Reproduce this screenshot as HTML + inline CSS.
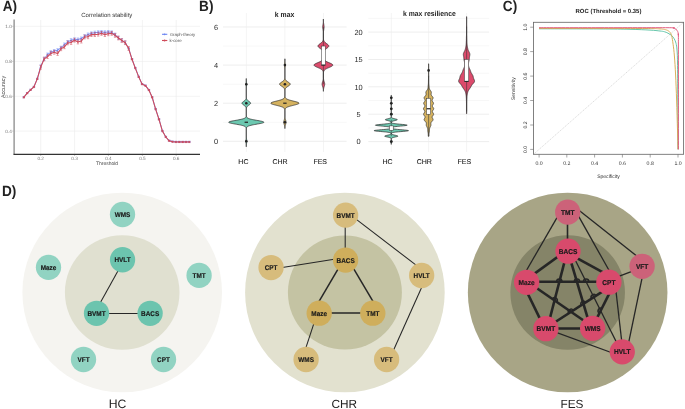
<!DOCTYPE html>
<html><head><meta charset="utf-8"><style>
html,body{margin:0;padding:0;background:#fff;overflow:hidden}
svg{display:block;will-change:transform}
text{font-family:"Liberation Sans", sans-serif;text-rendering:geometricPrecision}
</style></head><body>
<svg width="685" height="409" viewBox="0 0 685 409">
<rect width="685" height="409" fill="#fff"/>
<line x1="15" y1="26.3" x2="200" y2="26.3" stroke="#ebebeb" stroke-width="0.6"/>
<line x1="15" y1="61.4" x2="200" y2="61.4" stroke="#ebebeb" stroke-width="0.6"/>
<line x1="15" y1="96.3" x2="200" y2="96.3" stroke="#ebebeb" stroke-width="0.6"/>
<line x1="15" y1="131.1" x2="200" y2="131.1" stroke="#ebebeb" stroke-width="0.6"/>
<line x1="40.7" y1="20" x2="40.7" y2="154" stroke="#ebebeb" stroke-width="0.6"/>
<line x1="74.6" y1="20" x2="74.6" y2="154" stroke="#ebebeb" stroke-width="0.6"/>
<line x1="108.4" y1="20" x2="108.4" y2="154" stroke="#ebebeb" stroke-width="0.6"/>
<line x1="142.4" y1="20" x2="142.4" y2="154" stroke="#ebebeb" stroke-width="0.6"/>
<line x1="176.2" y1="20" x2="176.2" y2="154" stroke="#ebebeb" stroke-width="0.6"/>
<line x1="14.1" y1="19.5" x2="14.1" y2="154.6" stroke="#8a8a8a" stroke-width="1.3"/>
<line x1="13.5" y1="154.4" x2="200" y2="154.4" stroke="#333" stroke-width="1.15"/>
<text x="11.9" y="28.0" font-size="4.7" fill="#7a7a7a" text-anchor="end">1.0</text>
<line x1="12.3" y1="26.3" x2="13.4" y2="26.3" stroke="#888" stroke-width="0.5"/>
<text x="11.9" y="63.1" font-size="4.7" fill="#7a7a7a" text-anchor="end">0.8</text>
<line x1="12.3" y1="61.4" x2="13.4" y2="61.4" stroke="#888" stroke-width="0.5"/>
<text x="11.9" y="98.0" font-size="4.7" fill="#7a7a7a" text-anchor="end">0.6</text>
<line x1="12.3" y1="96.3" x2="13.4" y2="96.3" stroke="#888" stroke-width="0.5"/>
<text x="11.9" y="132.8" font-size="4.7" fill="#7a7a7a" text-anchor="end">0.4</text>
<line x1="12.3" y1="131.1" x2="13.4" y2="131.1" stroke="#888" stroke-width="0.5"/>
<text x="40.7" y="159.7" font-size="4.7" fill="#7a7a7a" text-anchor="middle">0.2</text>
<line x1="40.7" y1="154.9" x2="40.7" y2="156.0" stroke="#888" stroke-width="0.5"/>
<text x="74.6" y="159.7" font-size="4.7" fill="#7a7a7a" text-anchor="middle">0.3</text>
<line x1="74.6" y1="154.9" x2="74.6" y2="156.0" stroke="#888" stroke-width="0.5"/>
<text x="108.4" y="159.7" font-size="4.7" fill="#7a7a7a" text-anchor="middle">0.4</text>
<line x1="108.4" y1="154.9" x2="108.4" y2="156.0" stroke="#888" stroke-width="0.5"/>
<text x="142.4" y="159.7" font-size="4.7" fill="#7a7a7a" text-anchor="middle">0.5</text>
<line x1="142.4" y1="154.9" x2="142.4" y2="156.0" stroke="#888" stroke-width="0.5"/>
<text x="176.2" y="159.7" font-size="4.7" fill="#7a7a7a" text-anchor="middle">0.6</text>
<line x1="176.2" y1="154.9" x2="176.2" y2="156.0" stroke="#888" stroke-width="0.5"/>
<text x="107" y="164.5" font-size="5.0" fill="#444" text-anchor="middle">Threshold</text>
<text transform="translate(4.8,86.9) rotate(-90)" font-size="5.4" fill="#444" text-anchor="middle">Accuracy</text>
<text x="106.8" y="17.3" font-size="6.0" fill="#333" text-anchor="middle">Correlation stability</text>
<polyline fill="none" stroke="#6d87f2" stroke-width="0.9" points="23.8,97.2 27.2,93.0 30.6,89.7 33.9,86.8 37.3,78.7 40.7,66.4 44.1,58.9 47.5,54.6 50.8,52.2 54.2,51.1 57.6,50.2 61.0,47.7 64.4,44.5 67.7,42.0 71.1,40.2 74.5,39.4 77.9,39.5 81.3,38.5 84.6,36.2 88.0,34.5 91.4,33.4 94.8,32.7 98.2,32.3 101.5,32.1 104.9,32.3 108.3,32.1 111.7,32.4 115.1,34.6 118.4,37.8 121.8,40.3 125.2,42.5 128.6,48.2 132.0,59.1 135.3,67.9 138.7,76.7 142.1,84.0 145.5,85.5 148.9,89.9 152.2,97.2 155.6,108.9 159.0,119.2 162.4,130.9 165.8,136.8 169.1,140.6 172.5,141.5 175.9,141.8 179.3,141.8 182.7,141.8 186.0,141.8 189.4,141.8"/>
<path d="M22.5 96.7H25.1M22.5 97.7H25.1M23.8 96.7V97.7" stroke="#6d87f2" stroke-width="0.5" fill="none"/>
<circle cx="23.8" cy="97.2" r="0.8" fill="#6d87f2"/>
<path d="M25.9 92.5H28.5M25.9 93.5H28.5M27.2 92.5V93.5" stroke="#6d87f2" stroke-width="0.5" fill="none"/>
<circle cx="27.2" cy="93.0" r="0.8" fill="#6d87f2"/>
<path d="M29.3 89.2H31.9M29.3 90.2H31.9M30.6 89.2V90.2" stroke="#6d87f2" stroke-width="0.5" fill="none"/>
<circle cx="30.6" cy="89.7" r="0.8" fill="#6d87f2"/>
<path d="M32.6 86.3H35.2M32.6 87.3H35.2M33.9 86.3V87.3" stroke="#6d87f2" stroke-width="0.5" fill="none"/>
<circle cx="33.9" cy="86.8" r="0.8" fill="#6d87f2"/>
<path d="M36.0 78.2H38.6M36.0 79.2H38.6M37.3 78.2V79.2" stroke="#6d87f2" stroke-width="0.5" fill="none"/>
<circle cx="37.3" cy="78.7" r="0.8" fill="#6d87f2"/>
<path d="M39.4 64.9H42.0M39.4 67.9H42.0M40.7 64.9V67.9" stroke="#6d87f2" stroke-width="0.5" fill="none"/>
<circle cx="40.7" cy="66.4" r="0.8" fill="#6d87f2"/>
<path d="M42.8 57.4H45.4M42.8 60.4H45.4M44.1 57.4V60.4" stroke="#6d87f2" stroke-width="0.5" fill="none"/>
<circle cx="44.1" cy="58.9" r="0.8" fill="#6d87f2"/>
<path d="M46.2 53.1H48.8M46.2 56.1H48.8M47.5 53.1V56.1" stroke="#6d87f2" stroke-width="0.5" fill="none"/>
<circle cx="47.5" cy="54.6" r="0.8" fill="#6d87f2"/>
<path d="M49.5 50.7H52.1M49.5 53.7H52.1M50.8 50.7V53.7" stroke="#6d87f2" stroke-width="0.5" fill="none"/>
<circle cx="50.8" cy="52.2" r="0.8" fill="#6d87f2"/>
<path d="M52.9 49.6H55.5M52.9 52.6H55.5M54.2 49.6V52.6" stroke="#6d87f2" stroke-width="0.5" fill="none"/>
<circle cx="54.2" cy="51.1" r="0.8" fill="#6d87f2"/>
<path d="M56.3 48.7H58.9M56.3 51.7H58.9M57.6 48.7V51.7" stroke="#6d87f2" stroke-width="0.5" fill="none"/>
<circle cx="57.6" cy="50.2" r="0.8" fill="#6d87f2"/>
<path d="M59.7 46.2H62.3M59.7 49.2H62.3M61.0 46.2V49.2" stroke="#6d87f2" stroke-width="0.5" fill="none"/>
<circle cx="61.0" cy="47.7" r="0.8" fill="#6d87f2"/>
<path d="M63.1 43.0H65.7M63.1 46.0H65.7M64.4 43.0V46.0" stroke="#6d87f2" stroke-width="0.5" fill="none"/>
<circle cx="64.4" cy="44.5" r="0.8" fill="#6d87f2"/>
<path d="M66.4 40.5H69.0M66.4 43.5H69.0M67.7 40.5V43.5" stroke="#6d87f2" stroke-width="0.5" fill="none"/>
<circle cx="67.7" cy="42.0" r="0.8" fill="#6d87f2"/>
<path d="M69.8 38.7H72.4M69.8 41.7H72.4M71.1 38.7V41.7" stroke="#6d87f2" stroke-width="0.5" fill="none"/>
<circle cx="71.1" cy="40.2" r="0.8" fill="#6d87f2"/>
<path d="M73.2 37.9H75.8M73.2 40.9H75.8M74.5 37.9V40.9" stroke="#6d87f2" stroke-width="0.5" fill="none"/>
<circle cx="74.5" cy="39.4" r="0.8" fill="#6d87f2"/>
<path d="M76.6 38.0H79.2M76.6 41.0H79.2M77.9 38.0V41.0" stroke="#6d87f2" stroke-width="0.5" fill="none"/>
<circle cx="77.9" cy="39.5" r="0.8" fill="#6d87f2"/>
<path d="M80.0 37.0H82.6M80.0 40.0H82.6M81.3 37.0V40.0" stroke="#6d87f2" stroke-width="0.5" fill="none"/>
<circle cx="81.3" cy="38.5" r="0.8" fill="#6d87f2"/>
<path d="M83.3 34.7H85.9M83.3 37.7H85.9M84.6 34.7V37.7" stroke="#6d87f2" stroke-width="0.5" fill="none"/>
<circle cx="84.6" cy="36.2" r="0.8" fill="#6d87f2"/>
<path d="M86.7 33.0H89.3M86.7 36.0H89.3M88.0 33.0V36.0" stroke="#6d87f2" stroke-width="0.5" fill="none"/>
<circle cx="88.0" cy="34.5" r="0.8" fill="#6d87f2"/>
<path d="M90.1 31.9H92.7M90.1 34.9H92.7M91.4 31.9V34.9" stroke="#6d87f2" stroke-width="0.5" fill="none"/>
<circle cx="91.4" cy="33.4" r="0.8" fill="#6d87f2"/>
<path d="M93.5 31.2H96.1M93.5 34.2H96.1M94.8 31.2V34.2" stroke="#6d87f2" stroke-width="0.5" fill="none"/>
<circle cx="94.8" cy="32.7" r="0.8" fill="#6d87f2"/>
<path d="M96.9 30.8H99.5M96.9 33.8H99.5M98.2 30.8V33.8" stroke="#6d87f2" stroke-width="0.5" fill="none"/>
<circle cx="98.2" cy="32.3" r="0.8" fill="#6d87f2"/>
<path d="M100.2 30.6H102.8M100.2 33.6H102.8M101.5 30.6V33.6" stroke="#6d87f2" stroke-width="0.5" fill="none"/>
<circle cx="101.5" cy="32.1" r="0.8" fill="#6d87f2"/>
<path d="M103.6 30.8H106.2M103.6 33.8H106.2M104.9 30.8V33.8" stroke="#6d87f2" stroke-width="0.5" fill="none"/>
<circle cx="104.9" cy="32.3" r="0.8" fill="#6d87f2"/>
<path d="M107.0 30.6H109.6M107.0 33.6H109.6M108.3 30.6V33.6" stroke="#6d87f2" stroke-width="0.5" fill="none"/>
<circle cx="108.3" cy="32.1" r="0.8" fill="#6d87f2"/>
<path d="M110.4 30.9H113.0M110.4 33.9H113.0M111.7 30.9V33.9" stroke="#6d87f2" stroke-width="0.5" fill="none"/>
<circle cx="111.7" cy="32.4" r="0.8" fill="#6d87f2"/>
<path d="M113.8 33.1H116.4M113.8 36.1H116.4M115.1 33.1V36.1" stroke="#6d87f2" stroke-width="0.5" fill="none"/>
<circle cx="115.1" cy="34.6" r="0.8" fill="#6d87f2"/>
<path d="M117.1 36.3H119.7M117.1 39.3H119.7M118.4 36.3V39.3" stroke="#6d87f2" stroke-width="0.5" fill="none"/>
<circle cx="118.4" cy="37.8" r="0.8" fill="#6d87f2"/>
<path d="M120.5 38.8H123.1M120.5 41.8H123.1M121.8 38.8V41.8" stroke="#6d87f2" stroke-width="0.5" fill="none"/>
<circle cx="121.8" cy="40.3" r="0.8" fill="#6d87f2"/>
<path d="M123.9 41.0H126.5M123.9 44.0H126.5M125.2 41.0V44.0" stroke="#6d87f2" stroke-width="0.5" fill="none"/>
<circle cx="125.2" cy="42.5" r="0.8" fill="#6d87f2"/>
<path d="M127.3 47.7H129.9M127.3 48.7H129.9M128.6 47.7V48.7" stroke="#6d87f2" stroke-width="0.5" fill="none"/>
<circle cx="128.6" cy="48.2" r="0.8" fill="#6d87f2"/>
<path d="M130.7 58.6H133.3M130.7 59.6H133.3M132.0 58.6V59.6" stroke="#6d87f2" stroke-width="0.5" fill="none"/>
<circle cx="132.0" cy="59.1" r="0.8" fill="#6d87f2"/>
<path d="M134.0 67.4H136.6M134.0 68.4H136.6M135.3 67.4V68.4" stroke="#6d87f2" stroke-width="0.5" fill="none"/>
<circle cx="135.3" cy="67.9" r="0.8" fill="#6d87f2"/>
<path d="M137.4 76.2H140.0M137.4 77.2H140.0M138.7 76.2V77.2" stroke="#6d87f2" stroke-width="0.5" fill="none"/>
<circle cx="138.7" cy="76.7" r="0.8" fill="#6d87f2"/>
<path d="M140.8 83.5H143.4M140.8 84.5H143.4M142.1 83.5V84.5" stroke="#6d87f2" stroke-width="0.5" fill="none"/>
<circle cx="142.1" cy="84.0" r="0.8" fill="#6d87f2"/>
<path d="M144.2 85.0H146.8M144.2 86.0H146.8M145.5 85.0V86.0" stroke="#6d87f2" stroke-width="0.5" fill="none"/>
<circle cx="145.5" cy="85.5" r="0.8" fill="#6d87f2"/>
<path d="M147.6 89.4H150.2M147.6 90.4H150.2M148.9 89.4V90.4" stroke="#6d87f2" stroke-width="0.5" fill="none"/>
<circle cx="148.9" cy="89.9" r="0.8" fill="#6d87f2"/>
<path d="M150.9 96.7H153.5M150.9 97.7H153.5M152.2 96.7V97.7" stroke="#6d87f2" stroke-width="0.5" fill="none"/>
<circle cx="152.2" cy="97.2" r="0.8" fill="#6d87f2"/>
<path d="M154.3 108.4H156.9M154.3 109.4H156.9M155.6 108.4V109.4" stroke="#6d87f2" stroke-width="0.5" fill="none"/>
<circle cx="155.6" cy="108.9" r="0.8" fill="#6d87f2"/>
<path d="M157.7 118.7H160.3M157.7 119.7H160.3M159.0 118.7V119.7" stroke="#6d87f2" stroke-width="0.5" fill="none"/>
<circle cx="159.0" cy="119.2" r="0.8" fill="#6d87f2"/>
<path d="M161.1 130.4H163.7M161.1 131.4H163.7M162.4 130.4V131.4" stroke="#6d87f2" stroke-width="0.5" fill="none"/>
<circle cx="162.4" cy="130.9" r="0.8" fill="#6d87f2"/>
<path d="M164.5 136.3H167.1M164.5 137.3H167.1M165.8 136.3V137.3" stroke="#6d87f2" stroke-width="0.5" fill="none"/>
<circle cx="165.8" cy="136.8" r="0.8" fill="#6d87f2"/>
<path d="M167.8 140.1H170.4M167.8 141.1H170.4M169.1 140.1V141.1" stroke="#6d87f2" stroke-width="0.5" fill="none"/>
<circle cx="169.1" cy="140.6" r="0.8" fill="#6d87f2"/>
<path d="M171.2 141.0H173.8M171.2 142.0H173.8M172.5 141.0V142.0" stroke="#6d87f2" stroke-width="0.5" fill="none"/>
<circle cx="172.5" cy="141.5" r="0.8" fill="#6d87f2"/>
<path d="M174.6 141.3H177.2M174.6 142.3H177.2M175.9 141.3V142.3" stroke="#6d87f2" stroke-width="0.5" fill="none"/>
<circle cx="175.9" cy="141.8" r="0.8" fill="#6d87f2"/>
<path d="M178.0 141.3H180.6M178.0 142.3H180.6M179.3 141.3V142.3" stroke="#6d87f2" stroke-width="0.5" fill="none"/>
<circle cx="179.3" cy="141.8" r="0.8" fill="#6d87f2"/>
<path d="M181.4 141.3H184.0M181.4 142.3H184.0M182.7 141.3V142.3" stroke="#6d87f2" stroke-width="0.5" fill="none"/>
<circle cx="182.7" cy="141.8" r="0.8" fill="#6d87f2"/>
<path d="M184.7 141.3H187.3M184.7 142.3H187.3M186.0 141.3V142.3" stroke="#6d87f2" stroke-width="0.5" fill="none"/>
<circle cx="186.0" cy="141.8" r="0.8" fill="#6d87f2"/>
<path d="M188.1 141.3H190.7M188.1 142.3H190.7M189.4 141.3V142.3" stroke="#6d87f2" stroke-width="0.5" fill="none"/>
<circle cx="189.4" cy="141.8" r="0.8" fill="#6d87f2"/>
<polyline fill="none" stroke="#cf4b5a" stroke-width="1.1" points="23.8,97.4 27.2,93.2 30.6,89.9 33.9,87.0 37.3,78.9 40.7,67.3 44.1,59.0 47.5,56.6 50.8,53.5 54.2,52.3 57.6,53.5 61.0,48.8 64.4,46.8 67.7,42.9 71.1,42.5 74.5,40.2 77.9,42.0 81.3,41.1 84.6,37.0 88.0,36.8 91.4,34.6 94.8,34.6 98.2,34.2 101.5,33.4 104.9,34.6 108.3,33.8 111.7,33.4 115.1,35.4 118.4,38.0 121.8,40.5 125.2,42.7 128.6,48.4 132.0,59.3 135.3,68.1 138.7,76.9 142.1,84.2 145.5,85.7 148.9,90.1 152.2,97.4 155.6,109.1 159.0,119.4 162.4,131.1 165.8,137.0 169.1,140.8 172.5,141.7 175.9,142.0 179.3,142.0 182.7,142.0 186.0,142.0 189.4,142.0"/>
<path d="M22.6 96.8H25.0M22.6 98.0H25.0M23.8 96.8V98.0" stroke="#cf4b5a" stroke-width="0.5" fill="none"/>
<circle cx="23.8" cy="97.4" r="0.8" fill="#cf4b5a"/>
<path d="M26.0 92.6H28.4M26.0 93.8H28.4M27.2 92.6V93.8" stroke="#cf4b5a" stroke-width="0.5" fill="none"/>
<circle cx="27.2" cy="93.2" r="0.8" fill="#cf4b5a"/>
<path d="M29.4 89.3H31.8M29.4 90.5H31.8M30.6 89.3V90.5" stroke="#cf4b5a" stroke-width="0.5" fill="none"/>
<circle cx="30.6" cy="89.9" r="0.8" fill="#cf4b5a"/>
<path d="M32.7 86.4H35.1M32.7 87.6H35.1M33.9 86.4V87.6" stroke="#cf4b5a" stroke-width="0.5" fill="none"/>
<circle cx="33.9" cy="87.0" r="0.8" fill="#cf4b5a"/>
<path d="M36.1 78.3H38.5M36.1 79.5H38.5M37.3 78.3V79.5" stroke="#cf4b5a" stroke-width="0.5" fill="none"/>
<circle cx="37.3" cy="78.9" r="0.8" fill="#cf4b5a"/>
<path d="M39.5 65.4H41.9M39.5 69.2H41.9M40.7 65.4V69.2" stroke="#cf4b5a" stroke-width="0.5" fill="none"/>
<circle cx="40.7" cy="67.3" r="0.8" fill="#cf4b5a"/>
<path d="M42.9 57.1H45.3M42.9 60.9H45.3M44.1 57.1V60.9" stroke="#cf4b5a" stroke-width="0.5" fill="none"/>
<circle cx="44.1" cy="59.0" r="0.8" fill="#cf4b5a"/>
<path d="M46.3 54.7H48.7M46.3 58.5H48.7M47.5 54.7V58.5" stroke="#cf4b5a" stroke-width="0.5" fill="none"/>
<circle cx="47.5" cy="56.6" r="0.8" fill="#cf4b5a"/>
<path d="M49.6 51.6H52.0M49.6 55.4H52.0M50.8 51.6V55.4" stroke="#cf4b5a" stroke-width="0.5" fill="none"/>
<circle cx="50.8" cy="53.5" r="0.8" fill="#cf4b5a"/>
<path d="M53.0 50.4H55.4M53.0 54.2H55.4M54.2 50.4V54.2" stroke="#cf4b5a" stroke-width="0.5" fill="none"/>
<circle cx="54.2" cy="52.3" r="0.8" fill="#cf4b5a"/>
<path d="M56.4 51.6H58.8M56.4 55.4H58.8M57.6 51.6V55.4" stroke="#cf4b5a" stroke-width="0.5" fill="none"/>
<circle cx="57.6" cy="53.5" r="0.8" fill="#cf4b5a"/>
<path d="M59.8 46.9H62.2M59.8 50.7H62.2M61.0 46.9V50.7" stroke="#cf4b5a" stroke-width="0.5" fill="none"/>
<circle cx="61.0" cy="48.8" r="0.8" fill="#cf4b5a"/>
<path d="M63.2 44.9H65.6M63.2 48.7H65.6M64.4 44.9V48.7" stroke="#cf4b5a" stroke-width="0.5" fill="none"/>
<circle cx="64.4" cy="46.8" r="0.8" fill="#cf4b5a"/>
<path d="M66.5 41.0H68.9M66.5 44.8H68.9M67.7 41.0V44.8" stroke="#cf4b5a" stroke-width="0.5" fill="none"/>
<circle cx="67.7" cy="42.9" r="0.8" fill="#cf4b5a"/>
<path d="M69.9 40.6H72.3M69.9 44.4H72.3M71.1 40.6V44.4" stroke="#cf4b5a" stroke-width="0.5" fill="none"/>
<circle cx="71.1" cy="42.5" r="0.8" fill="#cf4b5a"/>
<path d="M73.3 38.3H75.7M73.3 42.1H75.7M74.5 38.3V42.1" stroke="#cf4b5a" stroke-width="0.5" fill="none"/>
<circle cx="74.5" cy="40.2" r="0.8" fill="#cf4b5a"/>
<path d="M76.7 40.1H79.1M76.7 43.9H79.1M77.9 40.1V43.9" stroke="#cf4b5a" stroke-width="0.5" fill="none"/>
<circle cx="77.9" cy="42.0" r="0.8" fill="#cf4b5a"/>
<path d="M80.1 39.2H82.5M80.1 43.0H82.5M81.3 39.2V43.0" stroke="#cf4b5a" stroke-width="0.5" fill="none"/>
<circle cx="81.3" cy="41.1" r="0.8" fill="#cf4b5a"/>
<path d="M83.4 35.1H85.8M83.4 38.9H85.8M84.6 35.1V38.9" stroke="#cf4b5a" stroke-width="0.5" fill="none"/>
<circle cx="84.6" cy="37.0" r="0.8" fill="#cf4b5a"/>
<path d="M86.8 34.9H89.2M86.8 38.7H89.2M88.0 34.9V38.7" stroke="#cf4b5a" stroke-width="0.5" fill="none"/>
<circle cx="88.0" cy="36.8" r="0.8" fill="#cf4b5a"/>
<path d="M90.2 32.7H92.6M90.2 36.5H92.6M91.4 32.7V36.5" stroke="#cf4b5a" stroke-width="0.5" fill="none"/>
<circle cx="91.4" cy="34.6" r="0.8" fill="#cf4b5a"/>
<path d="M93.6 32.7H96.0M93.6 36.5H96.0M94.8 32.7V36.5" stroke="#cf4b5a" stroke-width="0.5" fill="none"/>
<circle cx="94.8" cy="34.6" r="0.8" fill="#cf4b5a"/>
<path d="M97.0 32.3H99.4M97.0 36.1H99.4M98.2 32.3V36.1" stroke="#cf4b5a" stroke-width="0.5" fill="none"/>
<circle cx="98.2" cy="34.2" r="0.8" fill="#cf4b5a"/>
<path d="M100.3 31.5H102.7M100.3 35.3H102.7M101.5 31.5V35.3" stroke="#cf4b5a" stroke-width="0.5" fill="none"/>
<circle cx="101.5" cy="33.4" r="0.8" fill="#cf4b5a"/>
<path d="M103.7 32.7H106.1M103.7 36.5H106.1M104.9 32.7V36.5" stroke="#cf4b5a" stroke-width="0.5" fill="none"/>
<circle cx="104.9" cy="34.6" r="0.8" fill="#cf4b5a"/>
<path d="M107.1 31.9H109.5M107.1 35.7H109.5M108.3 31.9V35.7" stroke="#cf4b5a" stroke-width="0.5" fill="none"/>
<circle cx="108.3" cy="33.8" r="0.8" fill="#cf4b5a"/>
<path d="M110.5 31.5H112.9M110.5 35.3H112.9M111.7 31.5V35.3" stroke="#cf4b5a" stroke-width="0.5" fill="none"/>
<circle cx="111.7" cy="33.4" r="0.8" fill="#cf4b5a"/>
<path d="M113.9 33.5H116.3M113.9 37.3H116.3M115.1 33.5V37.3" stroke="#cf4b5a" stroke-width="0.5" fill="none"/>
<circle cx="115.1" cy="35.4" r="0.8" fill="#cf4b5a"/>
<path d="M117.2 36.1H119.6M117.2 39.9H119.6M118.4 36.1V39.9" stroke="#cf4b5a" stroke-width="0.5" fill="none"/>
<circle cx="118.4" cy="38.0" r="0.8" fill="#cf4b5a"/>
<path d="M120.6 38.6H123.0M120.6 42.4H123.0M121.8 38.6V42.4" stroke="#cf4b5a" stroke-width="0.5" fill="none"/>
<circle cx="121.8" cy="40.5" r="0.8" fill="#cf4b5a"/>
<path d="M124.0 40.8H126.4M124.0 44.6H126.4M125.2 40.8V44.6" stroke="#cf4b5a" stroke-width="0.5" fill="none"/>
<circle cx="125.2" cy="42.7" r="0.8" fill="#cf4b5a"/>
<path d="M127.4 46.5H129.8M127.4 50.3H129.8M128.6 46.5V50.3" stroke="#cf4b5a" stroke-width="0.5" fill="none"/>
<circle cx="128.6" cy="48.4" r="0.8" fill="#cf4b5a"/>
<path d="M130.8 58.7H133.2M130.8 59.9H133.2M132.0 58.7V59.9" stroke="#cf4b5a" stroke-width="0.5" fill="none"/>
<circle cx="132.0" cy="59.3" r="0.8" fill="#cf4b5a"/>
<path d="M134.1 67.5H136.5M134.1 68.7H136.5M135.3 67.5V68.7" stroke="#cf4b5a" stroke-width="0.5" fill="none"/>
<circle cx="135.3" cy="68.1" r="0.8" fill="#cf4b5a"/>
<path d="M137.5 76.3H139.9M137.5 77.5H139.9M138.7 76.3V77.5" stroke="#cf4b5a" stroke-width="0.5" fill="none"/>
<circle cx="138.7" cy="76.9" r="0.8" fill="#cf4b5a"/>
<path d="M140.9 83.6H143.3M140.9 84.8H143.3M142.1 83.6V84.8" stroke="#cf4b5a" stroke-width="0.5" fill="none"/>
<circle cx="142.1" cy="84.2" r="0.8" fill="#cf4b5a"/>
<path d="M144.3 85.1H146.7M144.3 86.3H146.7M145.5 85.1V86.3" stroke="#cf4b5a" stroke-width="0.5" fill="none"/>
<circle cx="145.5" cy="85.7" r="0.8" fill="#cf4b5a"/>
<path d="M147.7 89.5H150.1M147.7 90.7H150.1M148.9 89.5V90.7" stroke="#cf4b5a" stroke-width="0.5" fill="none"/>
<circle cx="148.9" cy="90.1" r="0.8" fill="#cf4b5a"/>
<path d="M151.0 96.8H153.4M151.0 98.0H153.4M152.2 96.8V98.0" stroke="#cf4b5a" stroke-width="0.5" fill="none"/>
<circle cx="152.2" cy="97.4" r="0.8" fill="#cf4b5a"/>
<path d="M154.4 108.5H156.8M154.4 109.7H156.8M155.6 108.5V109.7" stroke="#cf4b5a" stroke-width="0.5" fill="none"/>
<circle cx="155.6" cy="109.1" r="0.8" fill="#cf4b5a"/>
<path d="M157.8 118.8H160.2M157.8 120.0H160.2M159.0 118.8V120.0" stroke="#cf4b5a" stroke-width="0.5" fill="none"/>
<circle cx="159.0" cy="119.4" r="0.8" fill="#cf4b5a"/>
<path d="M161.2 130.5H163.6M161.2 131.7H163.6M162.4 130.5V131.7" stroke="#cf4b5a" stroke-width="0.5" fill="none"/>
<circle cx="162.4" cy="131.1" r="0.8" fill="#cf4b5a"/>
<path d="M164.6 136.4H167.0M164.6 137.6H167.0M165.8 136.4V137.6" stroke="#cf4b5a" stroke-width="0.5" fill="none"/>
<circle cx="165.8" cy="137.0" r="0.8" fill="#cf4b5a"/>
<path d="M167.9 140.2H170.3M167.9 141.4H170.3M169.1 140.2V141.4" stroke="#cf4b5a" stroke-width="0.5" fill="none"/>
<circle cx="169.1" cy="140.8" r="0.8" fill="#cf4b5a"/>
<path d="M171.3 141.1H173.7M171.3 142.3H173.7M172.5 141.1V142.3" stroke="#cf4b5a" stroke-width="0.5" fill="none"/>
<circle cx="172.5" cy="141.7" r="0.8" fill="#cf4b5a"/>
<path d="M174.7 141.4H177.1M174.7 142.6H177.1M175.9 141.4V142.6" stroke="#cf4b5a" stroke-width="0.5" fill="none"/>
<circle cx="175.9" cy="142.0" r="0.8" fill="#cf4b5a"/>
<path d="M178.1 141.4H180.5M178.1 142.6H180.5M179.3 141.4V142.6" stroke="#cf4b5a" stroke-width="0.5" fill="none"/>
<circle cx="179.3" cy="142.0" r="0.8" fill="#cf4b5a"/>
<path d="M181.5 141.4H183.9M181.5 142.6H183.9M182.7 141.4V142.6" stroke="#cf4b5a" stroke-width="0.5" fill="none"/>
<circle cx="182.7" cy="142.0" r="0.8" fill="#cf4b5a"/>
<path d="M184.8 141.4H187.2M184.8 142.6H187.2M186.0 141.4V142.6" stroke="#cf4b5a" stroke-width="0.5" fill="none"/>
<circle cx="186.0" cy="142.0" r="0.8" fill="#cf4b5a"/>
<path d="M188.2 141.4H190.6M188.2 142.6H190.6M189.4 141.4V142.6" stroke="#cf4b5a" stroke-width="0.5" fill="none"/>
<circle cx="189.4" cy="142.0" r="0.8" fill="#cf4b5a"/>
<line x1="162" y1="34.3" x2="167.3" y2="34.3" stroke="#6d87f2" stroke-width="1.1"/><circle cx="164.6" cy="34.3" r="0.9" fill="#6d87f2"/>
<line x1="162" y1="40.5" x2="167.3" y2="40.5" stroke="#cf4b5a" stroke-width="1.1"/><circle cx="164.6" cy="40.5" r="0.9" fill="#cf4b5a"/>
<text x="169.7" y="35.9" font-size="4.35" fill="#555">Graph-theory</text>
<text x="169.5" y="42.0" font-size="4.4" fill="#555">k-core</text>
<text transform="translate(2.7,10.6) scale(0.92,1)" font-size="14.8" font-weight="bold" fill="#222">A)</text>
<text transform="translate(199.1,10.8) scale(0.92,1)" font-size="14.8" font-weight="bold" fill="#222">B)</text>
<text transform="translate(502.8,10.9) scale(0.92,1)" font-size="14.8" font-weight="bold" fill="#222">C)</text>
<text transform="translate(2.0,195.8) scale(0.92,1)" font-size="14.8" font-weight="bold" fill="#222">D)</text>
<line x1="223.0" y1="122.3" x2="346.6" y2="122.3" stroke="#f2f2f2" stroke-width="0.6"/>
<line x1="223.0" y1="84.2" x2="346.6" y2="84.2" stroke="#f2f2f2" stroke-width="0.6"/>
<line x1="223.0" y1="46.1" x2="346.6" y2="46.1" stroke="#f2f2f2" stroke-width="0.6"/>
<line x1="223.0" y1="141.3" x2="346.6" y2="141.3" stroke="#e6e6e6" stroke-width="0.7"/>
<line x1="223.0" y1="103.2" x2="346.6" y2="103.2" stroke="#e6e6e6" stroke-width="0.7"/>
<line x1="223.0" y1="65.1" x2="346.6" y2="65.1" stroke="#e6e6e6" stroke-width="0.7"/>
<line x1="223.0" y1="27.0" x2="346.6" y2="27.0" stroke="#e6e6e6" stroke-width="0.7"/>
<line x1="246.4" y1="13" x2="246.4" y2="152" stroke="#ececec" stroke-width="0.6"/>
<line x1="284.9" y1="13" x2="284.9" y2="152" stroke="#ececec" stroke-width="0.6"/>
<line x1="323.5" y1="13" x2="323.5" y2="152" stroke="#ececec" stroke-width="0.6"/>
<text x="216.05" y="144.0" font-size="7.4" fill="#2b2b2b" text-anchor="middle">0</text>
<text x="216.05" y="105.9" font-size="7.4" fill="#2b2b2b" text-anchor="middle">2</text>
<text x="216.05" y="67.8" font-size="7.4" fill="#2b2b2b" text-anchor="middle">4</text>
<text x="216.05" y="29.6" font-size="7.4" fill="#2b2b2b" text-anchor="middle">6</text>
<text x="243.4" y="164.1" font-size="7" fill="#1e1e1e" stroke="#1e1e1e" stroke-width="0.12" text-anchor="middle">HC</text>
<text x="280.1" y="164.1" font-size="7" fill="#1e1e1e" stroke="#1e1e1e" stroke-width="0.12" text-anchor="middle">CHR</text>
<text x="320.2" y="164.1" font-size="7" fill="#1e1e1e" stroke="#1e1e1e" stroke-width="0.12" text-anchor="middle">FES</text>
<text transform="translate(284.55,16.5) scale(0.93,1)" font-size="7.4" font-weight="bold" fill="#222" text-anchor="middle">k max</text>
<line x1="368.3" y1="127.9" x2="489.1" y2="127.9" stroke="#f2f2f2" stroke-width="0.6"/>
<line x1="368.3" y1="100.5" x2="489.1" y2="100.5" stroke="#f2f2f2" stroke-width="0.6"/>
<line x1="368.3" y1="73.2" x2="489.1" y2="73.2" stroke="#f2f2f2" stroke-width="0.6"/>
<line x1="368.3" y1="45.8" x2="489.1" y2="45.8" stroke="#f2f2f2" stroke-width="0.6"/>
<line x1="368.3" y1="18.4" x2="489.1" y2="18.4" stroke="#f2f2f2" stroke-width="0.6"/>
<line x1="368.3" y1="141.6" x2="489.1" y2="141.6" stroke="#e6e6e6" stroke-width="0.7"/>
<line x1="368.3" y1="114.2" x2="489.1" y2="114.2" stroke="#e6e6e6" stroke-width="0.7"/>
<line x1="368.3" y1="86.8" x2="489.1" y2="86.8" stroke="#e6e6e6" stroke-width="0.7"/>
<line x1="368.3" y1="59.5" x2="489.1" y2="59.5" stroke="#e6e6e6" stroke-width="0.7"/>
<line x1="368.3" y1="32.1" x2="489.1" y2="32.1" stroke="#e6e6e6" stroke-width="0.7"/>
<line x1="391.3" y1="13" x2="391.3" y2="152" stroke="#ececec" stroke-width="0.6"/>
<line x1="428.6" y1="13" x2="428.6" y2="152" stroke="#ececec" stroke-width="0.6"/>
<line x1="466.6" y1="13" x2="466.6" y2="152" stroke="#ececec" stroke-width="0.6"/>
<text x="358.6" y="144.2" font-size="7.4" fill="#2b2b2b" text-anchor="middle">0</text>
<text x="358.6" y="116.9" font-size="7.4" fill="#2b2b2b" text-anchor="middle">5</text>
<text x="358.6" y="89.5" font-size="7.4" fill="#2b2b2b" text-anchor="middle">10</text>
<text x="358.6" y="62.1" font-size="7.4" fill="#2b2b2b" text-anchor="middle">15</text>
<text x="358.6" y="34.7" font-size="7.4" fill="#2b2b2b" text-anchor="middle">20</text>
<text x="387.45" y="164.2" font-size="7" fill="#1e1e1e" stroke="#1e1e1e" stroke-width="0.12" text-anchor="middle">HC</text>
<text x="424.3" y="164.2" font-size="7" fill="#1e1e1e" stroke="#1e1e1e" stroke-width="0.12" text-anchor="middle">CHR</text>
<text x="464.25" y="164.2" font-size="7" fill="#1e1e1e" stroke="#1e1e1e" stroke-width="0.12" text-anchor="middle">FES</text>
<text transform="translate(429.35,16.0) scale(0.93,1)" font-size="7.35" font-weight="bold" fill="#222" text-anchor="middle">k max resilience</text>
<polygon points="246.32,78.54 246.32,78.79 246.32,79.04 246.32,79.29 246.32,79.54 246.32,79.79 246.33,80.04 246.34,80.29 246.35,80.54 246.37,80.79 246.39,81.04 246.41,81.29 246.43,81.54 246.46,81.79 246.49,82.04 246.51,82.29 246.54,82.54 246.57,82.79 246.59,83.04 246.61,83.29 246.63,83.54 246.64,83.79 246.65,84.04 246.65,84.29 246.64,84.54 246.63,84.79 246.61,85.04 246.59,85.29 246.57,85.54 246.54,85.79 246.51,86.04 246.48,86.29 246.45,86.54 246.43,86.79 246.41,87.04 246.39,87.29 246.37,87.54 246.35,87.79 246.34,88.04 246.33,88.29 246.32,88.54 246.32,88.79 246.32,89.04 246.32,89.29 246.32,89.54 246.32,89.79 246.32,90.04 246.32,90.29 246.32,90.54 246.32,90.79 246.32,91.04 246.32,91.29 246.32,91.54 246.32,91.79 246.32,92.04 246.32,92.29 246.32,92.54 246.32,92.79 246.32,93.04 246.32,93.29 246.32,93.54 246.32,93.79 246.32,94.04 246.32,94.29 246.32,94.54 246.32,94.79 246.32,95.04 246.32,95.29 246.32,95.54 246.32,95.79 246.32,96.04 246.32,96.29 246.32,96.54 246.32,96.79 246.32,97.04 246.33,97.29 246.34,97.54 246.37,97.79 246.40,98.04 246.44,98.29 246.49,98.54 246.57,98.79 246.66,99.04 246.78,99.29 246.93,99.54 247.12,99.79 247.33,100.04 247.58,100.29 247.86,100.54 248.17,100.79 248.51,101.04 248.85,101.29 249.20,101.54 249.54,101.79 249.85,102.04 250.12,102.29 250.34,102.54 250.50,102.79 250.58,103.04 250.60,103.29 250.53,103.54 250.39,103.79 250.19,104.04 249.93,104.29 249.63,104.54 249.30,104.79 248.95,105.04 248.60,105.29 248.27,105.54 247.95,105.79 247.66,106.04 247.40,106.29 247.17,106.54 246.98,106.79 246.82,107.04 246.69,107.29 246.59,107.54 246.51,107.79 246.45,108.04 246.41,108.29 246.37,108.54 246.35,108.79 246.33,109.04 246.32,109.29 246.32,109.54 246.32,109.79 246.32,110.04 246.32,110.29 246.32,110.54 246.32,110.79 246.32,111.04 246.32,111.29 246.32,111.54 246.32,111.79 246.32,112.04 246.32,112.29 246.32,112.54 246.32,112.79 246.32,113.04 246.32,113.29 246.32,113.54 246.32,113.79 246.32,114.04 246.32,114.29 246.32,114.54 246.32,114.79 246.32,115.04 246.32,115.29 246.33,115.54 246.35,115.79 246.37,116.04 246.41,116.29 246.47,116.54 246.55,116.79 246.66,117.04 246.82,117.29 247.04,117.54 247.32,117.79 247.70,118.04 248.17,118.29 248.76,118.54 249.48,118.79 250.33,119.04 251.33,119.29 252.46,119.54 253.71,119.79 255.05,120.04 256.46,120.29 257.89,120.54 259.28,120.79 260.58,121.04 261.73,121.29 262.68,121.54 263.38,121.79 263.79,122.04 263.90,122.29 263.69,122.54 263.18,122.79 262.40,123.04 261.38,123.29 260.17,123.54 258.84,123.79 257.43,124.04 256.01,124.29 254.62,124.54 253.30,124.79 252.08,125.04 251.00,125.29 250.04,125.54 249.23,125.79 248.56,126.04 248.01,126.29 247.57,126.54 247.22,126.79 246.96,127.04 246.77,127.29 246.62,127.54 246.52,127.79 246.45,128.04 246.40,128.29 246.36,128.54 246.34,128.79 246.32,129.04 246.32,129.29 246.32,129.54 246.32,129.79 246.32,130.04 246.32,130.29 246.32,130.54 246.32,130.79 246.32,131.04 246.32,131.29 246.32,131.54 246.32,131.79 246.32,132.04 246.32,132.29 246.32,132.54 246.32,132.79 246.32,133.04 246.32,133.29 246.32,133.54 246.32,133.79 246.32,134.04 246.32,134.29 246.32,134.54 246.32,134.79 246.32,135.04 246.32,135.29 246.32,135.54 246.32,135.79 246.32,136.04 246.32,136.29 246.32,136.54 246.33,136.79 246.34,137.04 246.35,137.29 246.37,137.54 246.39,137.79 246.41,138.04 246.44,138.29 246.47,138.54 246.50,138.79 246.54,139.04 246.58,139.29 246.62,139.54 246.66,139.79 246.70,140.04 246.73,140.29 246.76,140.54 246.78,140.79 246.80,141.04 246.80,141.29 246.80,141.54 246.78,141.79 246.76,142.04 246.73,142.29 246.70,142.54 246.66,142.79 246.62,143.04 246.58,143.29 246.54,143.54 246.51,143.79 246.47,144.04 246.44,144.29 246.41,144.54 246.39,144.79 246.37,145.04 246.35,145.29 246.34,145.54 246.33,145.79 246.32,146.04 246.32,146.29 246.32,146.54 246.32,146.79 246.28,146.79 246.28,146.54 246.28,146.29 246.28,146.04 246.27,145.79 246.26,145.54 246.25,145.29 246.23,145.04 246.21,144.79 246.19,144.54 246.16,144.29 246.13,144.04 246.09,143.79 246.06,143.54 246.02,143.29 245.98,143.04 245.94,142.79 245.90,142.54 245.87,142.29 245.84,142.04 245.82,141.79 245.80,141.54 245.80,141.29 245.80,141.04 245.82,140.79 245.84,140.54 245.87,140.29 245.90,140.04 245.94,139.79 245.98,139.54 246.02,139.29 246.06,139.04 246.10,138.79 246.13,138.54 246.16,138.29 246.19,138.04 246.21,137.79 246.23,137.54 246.25,137.29 246.26,137.04 246.27,136.79 246.28,136.54 246.28,136.29 246.28,136.04 246.28,135.79 246.28,135.54 246.28,135.29 246.28,135.04 246.28,134.79 246.28,134.54 246.28,134.29 246.28,134.04 246.28,133.79 246.28,133.54 246.28,133.29 246.28,133.04 246.28,132.79 246.28,132.54 246.28,132.29 246.28,132.04 246.28,131.79 246.28,131.54 246.28,131.29 246.28,131.04 246.28,130.79 246.28,130.54 246.28,130.29 246.28,130.04 246.28,129.79 246.28,129.54 246.28,129.29 246.28,129.04 246.26,128.79 246.24,128.54 246.20,128.29 246.15,128.04 246.08,127.79 245.98,127.54 245.83,127.29 245.64,127.04 245.38,126.79 245.03,126.54 244.59,126.29 244.04,126.04 243.37,125.79 242.56,125.54 241.60,125.29 240.52,125.04 239.30,124.79 237.98,124.54 236.59,124.29 235.17,124.04 233.76,123.79 232.43,123.54 231.22,123.29 230.20,123.04 229.42,122.79 228.91,122.54 228.70,122.29 228.81,122.04 229.22,121.79 229.92,121.54 230.87,121.29 232.02,121.04 233.32,120.79 234.71,120.54 236.14,120.29 237.55,120.04 238.89,119.79 240.14,119.54 241.27,119.29 242.27,119.04 243.12,118.79 243.84,118.54 244.43,118.29 244.90,118.04 245.28,117.79 245.56,117.54 245.78,117.29 245.94,117.04 246.05,116.79 246.13,116.54 246.19,116.29 246.23,116.04 246.25,115.79 246.27,115.54 246.28,115.29 246.28,115.04 246.28,114.79 246.28,114.54 246.28,114.29 246.28,114.04 246.28,113.79 246.28,113.54 246.28,113.29 246.28,113.04 246.28,112.79 246.28,112.54 246.28,112.29 246.28,112.04 246.28,111.79 246.28,111.54 246.28,111.29 246.28,111.04 246.28,110.79 246.28,110.54 246.28,110.29 246.28,110.04 246.28,109.79 246.28,109.54 246.28,109.29 246.27,109.04 246.25,108.79 246.23,108.54 246.19,108.29 246.15,108.04 246.09,107.79 246.01,107.54 245.91,107.29 245.78,107.04 245.62,106.79 245.43,106.54 245.20,106.29 244.94,106.04 244.65,105.79 244.33,105.54 244.00,105.29 243.65,105.04 243.30,104.79 242.97,104.54 242.67,104.29 242.41,104.04 242.21,103.79 242.07,103.54 242.00,103.29 242.02,103.04 242.10,102.79 242.26,102.54 242.48,102.29 242.75,102.04 243.06,101.79 243.40,101.54 243.75,101.29 244.09,101.04 244.43,100.79 244.74,100.54 245.02,100.29 245.27,100.04 245.48,99.79 245.67,99.54 245.82,99.29 245.94,99.04 246.03,98.79 246.11,98.54 246.16,98.29 246.20,98.04 246.23,97.79 246.26,97.54 246.27,97.29 246.28,97.04 246.28,96.79 246.28,96.54 246.28,96.29 246.28,96.04 246.28,95.79 246.28,95.54 246.28,95.29 246.28,95.04 246.28,94.79 246.28,94.54 246.28,94.29 246.28,94.04 246.28,93.79 246.28,93.54 246.28,93.29 246.28,93.04 246.28,92.79 246.28,92.54 246.28,92.29 246.28,92.04 246.28,91.79 246.28,91.54 246.28,91.29 246.28,91.04 246.28,90.79 246.28,90.54 246.28,90.29 246.28,90.04 246.28,89.79 246.28,89.54 246.28,89.29 246.28,89.04 246.28,88.79 246.28,88.54 246.27,88.29 246.26,88.04 246.25,87.79 246.23,87.54 246.21,87.29 246.19,87.04 246.17,86.79 246.15,86.54 246.12,86.29 246.09,86.04 246.06,85.79 246.03,85.54 246.01,85.29 245.99,85.04 245.97,84.79 245.96,84.54 245.95,84.29 245.95,84.04 245.96,83.79 245.97,83.54 245.99,83.29 246.01,83.04 246.03,82.79 246.06,82.54 246.09,82.29 246.11,82.04 246.14,81.79 246.17,81.54 246.19,81.29 246.21,81.04 246.23,80.79 246.25,80.54 246.26,80.29 246.27,80.04 246.28,79.79 246.28,79.54 246.28,79.29 246.28,79.04 246.28,78.79 246.28,78.54" fill="#6cc8b0" stroke="#2a2a2a" stroke-width="0.7" stroke-linejoin="round"/>
<rect x="244.60" y="121.65" width="3.4" height="1.2" fill="#222"/>
<circle cx="246.3" cy="141.3" r="1.3" fill="#222"/>
<circle cx="246.3" cy="103.2" r="1.3" fill="#222"/>
<circle cx="246.3" cy="84.2" r="1.3" fill="#222"/>
<polygon points="284.92,58.80 284.92,59.05 284.92,59.30 284.92,59.55 284.92,59.80 284.92,60.05 284.93,60.30 284.94,60.55 284.95,60.80 284.96,61.05 284.98,61.30 285.00,61.55 285.02,61.80 285.04,62.05 285.06,62.30 285.09,62.55 285.12,62.80 285.15,63.05 285.18,63.30 285.20,63.55 285.23,63.80 285.25,64.05 285.27,64.30 285.29,64.55 285.30,64.80 285.30,65.05 285.30,65.30 285.29,65.55 285.28,65.80 285.26,66.05 285.24,66.30 285.22,66.55 285.19,66.80 285.16,67.05 285.13,67.30 285.10,67.55 285.08,67.80 285.05,68.05 285.03,68.30 285.00,68.55 284.98,68.80 284.97,69.05 284.95,69.30 284.94,69.55 284.93,69.80 284.92,70.05 284.92,70.30 284.92,70.55 284.92,70.80 284.92,71.05 284.92,71.30 284.92,71.55 284.92,71.80 284.92,72.05 284.92,72.30 284.92,72.55 284.92,72.80 284.92,73.05 284.92,73.30 284.92,73.55 284.92,73.80 284.92,74.05 284.92,74.30 284.92,74.55 284.92,74.80 284.92,75.05 284.92,75.30 284.92,75.55 284.92,75.80 284.92,76.05 284.92,76.30 284.92,76.55 284.92,76.80 284.92,77.05 284.93,77.30 284.94,77.55 284.95,77.80 284.98,78.05 285.01,78.30 285.05,78.55 285.11,78.80 285.18,79.05 285.27,79.30 285.38,79.55 285.52,79.80 285.69,80.05 285.89,80.30 286.12,80.55 286.38,80.80 286.68,81.05 287.01,81.30 287.36,81.55 287.73,81.80 288.11,82.05 288.50,82.30 288.86,82.55 289.21,82.80 289.52,83.05 289.78,83.30 289.99,83.55 290.13,83.80 290.19,84.05 290.19,84.30 290.10,84.55 289.95,84.80 289.73,85.05 289.46,85.30 289.14,85.55 288.79,85.80 288.42,86.05 288.04,86.30 287.66,86.55 287.29,86.80 286.94,87.05 286.62,87.30 286.33,87.55 286.07,87.80 285.84,88.05 285.65,88.30 285.49,88.55 285.36,88.80 285.25,89.05 285.16,89.30 285.09,89.55 285.04,89.80 285.00,90.05 284.97,90.30 284.95,90.55 284.94,90.80 284.92,91.05 284.92,91.30 284.92,91.55 284.92,91.80 284.92,92.05 284.92,92.30 284.92,92.55 284.92,92.80 284.92,93.05 284.92,93.30 284.92,93.55 284.92,93.80 284.92,94.05 284.92,94.30 284.92,94.55 284.92,94.80 284.92,95.05 284.92,95.30 284.92,95.55 284.93,95.80 284.94,96.05 284.96,96.30 284.99,96.55 285.04,96.80 285.09,97.05 285.17,97.30 285.28,97.55 285.42,97.80 285.60,98.05 285.83,98.30 286.11,98.55 286.47,98.80 286.90,99.05 287.41,99.30 288.01,99.55 288.70,99.80 289.48,100.05 290.33,100.30 291.26,100.55 292.24,100.80 293.25,101.05 294.26,101.30 295.26,101.55 296.19,101.80 297.04,102.05 297.76,102.30 298.34,102.55 298.75,102.80 298.96,103.05 298.98,103.30 298.81,103.55 298.44,103.80 297.89,104.05 297.19,104.30 296.37,104.55 295.45,104.80 294.47,105.05 293.45,105.30 292.44,105.55 291.45,105.80 290.51,106.05 289.64,106.30 288.85,106.55 288.14,106.80 287.53,107.05 287.00,107.30 286.55,107.55 286.18,107.80 285.88,108.05 285.64,108.30 285.45,108.55 285.30,108.80 285.19,109.05 285.11,109.30 285.05,109.55 285.00,109.80 284.97,110.05 284.95,110.30 284.93,110.55 284.92,110.80 284.92,111.05 284.92,111.30 284.92,111.55 284.92,111.80 284.92,112.05 284.92,112.30 284.92,112.55 284.92,112.80 284.92,113.05 284.92,113.30 284.92,113.55 284.92,113.80 284.92,114.05 284.92,114.30 284.92,114.55 284.92,114.80 284.92,115.05 284.92,115.30 284.92,115.55 284.92,115.80 284.92,116.05 284.92,116.30 284.93,116.55 284.94,116.80 284.96,117.05 284.97,117.30 285.00,117.55 285.03,117.80 285.06,118.05 285.10,118.30 285.15,118.55 285.21,118.80 285.28,119.05 285.35,119.30 285.43,119.55 285.51,119.80 285.59,120.05 285.68,120.30 285.76,120.55 285.85,120.80 285.92,121.05 285.98,121.30 286.04,121.55 286.07,121.80 286.09,122.05 286.10,122.30 286.09,122.55 286.06,122.80 286.02,123.05 285.96,123.30 285.89,123.55 285.81,123.80 285.73,124.05 285.65,124.30 285.56,124.55 285.47,124.80 285.39,125.05 285.32,125.30 285.25,125.55 285.19,125.80 285.13,126.05 285.09,126.30 285.05,126.55 285.01,126.80 284.99,127.05 284.97,127.30 284.95,127.55 284.94,127.80 284.93,128.05 284.92,128.30 284.92,128.55 284.88,128.55 284.88,128.30 284.87,128.05 284.86,127.80 284.85,127.55 284.83,127.30 284.81,127.05 284.79,126.80 284.75,126.55 284.71,126.30 284.67,126.05 284.61,125.80 284.55,125.55 284.48,125.30 284.41,125.05 284.33,124.80 284.24,124.55 284.15,124.30 284.07,124.05 283.99,123.80 283.91,123.55 283.84,123.30 283.78,123.05 283.74,122.80 283.71,122.55 283.70,122.30 283.71,122.05 283.73,121.80 283.76,121.55 283.82,121.30 283.88,121.05 283.95,120.80 284.04,120.55 284.12,120.30 284.21,120.05 284.29,119.80 284.37,119.55 284.45,119.30 284.52,119.05 284.59,118.80 284.65,118.55 284.70,118.30 284.74,118.05 284.77,117.80 284.80,117.55 284.83,117.30 284.84,117.05 284.86,116.80 284.87,116.55 284.88,116.30 284.88,116.05 284.88,115.80 284.88,115.55 284.88,115.30 284.88,115.05 284.88,114.80 284.88,114.55 284.88,114.30 284.88,114.05 284.88,113.80 284.88,113.55 284.88,113.30 284.88,113.05 284.88,112.80 284.88,112.55 284.88,112.30 284.88,112.05 284.88,111.80 284.88,111.55 284.88,111.30 284.88,111.05 284.88,110.80 284.87,110.55 284.85,110.30 284.83,110.05 284.80,109.80 284.75,109.55 284.69,109.30 284.61,109.05 284.50,108.80 284.35,108.55 284.16,108.30 283.92,108.05 283.62,107.80 283.25,107.55 282.80,107.30 282.27,107.05 281.66,106.80 280.95,106.55 280.16,106.30 279.29,106.05 278.35,105.80 277.36,105.55 276.35,105.30 275.33,105.05 274.35,104.80 273.43,104.55 272.61,104.30 271.91,104.05 271.36,103.80 270.99,103.55 270.82,103.30 270.84,103.05 271.05,102.80 271.46,102.55 272.04,102.30 272.76,102.05 273.61,101.80 274.54,101.55 275.54,101.30 276.55,101.05 277.56,100.80 278.54,100.55 279.47,100.30 280.32,100.05 281.10,99.80 281.79,99.55 282.39,99.30 282.90,99.05 283.33,98.80 283.69,98.55 283.97,98.30 284.20,98.05 284.38,97.80 284.52,97.55 284.63,97.30 284.71,97.05 284.76,96.80 284.81,96.55 284.84,96.30 284.86,96.05 284.87,95.80 284.88,95.55 284.88,95.30 284.88,95.05 284.88,94.80 284.88,94.55 284.88,94.30 284.88,94.05 284.88,93.80 284.88,93.55 284.88,93.30 284.88,93.05 284.88,92.80 284.88,92.55 284.88,92.30 284.88,92.05 284.88,91.80 284.88,91.55 284.88,91.30 284.88,91.05 284.86,90.80 284.85,90.55 284.83,90.30 284.80,90.05 284.76,89.80 284.71,89.55 284.64,89.30 284.55,89.05 284.44,88.80 284.31,88.55 284.15,88.30 283.96,88.05 283.73,87.80 283.47,87.55 283.18,87.30 282.86,87.05 282.51,86.80 282.14,86.55 281.76,86.30 281.38,86.05 281.01,85.80 280.66,85.55 280.34,85.30 280.07,85.05 279.85,84.80 279.70,84.55 279.61,84.30 279.61,84.05 279.67,83.80 279.81,83.55 280.02,83.30 280.28,83.05 280.59,82.80 280.94,82.55 281.30,82.30 281.69,82.05 282.07,81.80 282.44,81.55 282.79,81.30 283.12,81.05 283.42,80.80 283.68,80.55 283.91,80.30 284.11,80.05 284.28,79.80 284.42,79.55 284.53,79.30 284.62,79.05 284.69,78.80 284.75,78.55 284.79,78.30 284.82,78.05 284.85,77.80 284.86,77.55 284.87,77.30 284.88,77.05 284.88,76.80 284.88,76.55 284.88,76.30 284.88,76.05 284.88,75.80 284.88,75.55 284.88,75.30 284.88,75.05 284.88,74.80 284.88,74.55 284.88,74.30 284.88,74.05 284.88,73.80 284.88,73.55 284.88,73.30 284.88,73.05 284.88,72.80 284.88,72.55 284.88,72.30 284.88,72.05 284.88,71.80 284.88,71.55 284.88,71.30 284.88,71.05 284.88,70.80 284.88,70.55 284.88,70.30 284.88,70.05 284.87,69.80 284.86,69.55 284.85,69.30 284.83,69.05 284.82,68.80 284.80,68.55 284.77,68.30 284.75,68.05 284.72,67.80 284.70,67.55 284.67,67.30 284.64,67.05 284.61,66.80 284.58,66.55 284.56,66.30 284.54,66.05 284.52,65.80 284.51,65.55 284.50,65.30 284.50,65.05 284.50,64.80 284.51,64.55 284.53,64.30 284.55,64.05 284.57,63.80 284.60,63.55 284.62,63.30 284.65,63.05 284.68,62.80 284.71,62.55 284.74,62.30 284.76,62.05 284.78,61.80 284.80,61.55 284.82,61.30 284.84,61.05 284.85,60.80 284.86,60.55 284.87,60.30 284.88,60.05 284.88,59.80 284.88,59.55 284.88,59.30 284.88,59.05 284.88,58.80" fill="#d5b25f" stroke="#2a2a2a" stroke-width="0.7" stroke-linejoin="round"/>
<rect x="283.20" y="102.60" width="3.4" height="1.2" fill="#222"/>
<circle cx="284.9" cy="122.3" r="1.3" fill="#222"/>
<circle cx="284.9" cy="84.2" r="1.3" fill="#222"/>
<circle cx="284.9" cy="65.1" r="1.3" fill="#222"/>
<polygon points="323.42,19.08 323.42,19.33 323.42,19.58 323.42,19.83 323.42,20.08 323.42,20.33 323.42,20.58 323.43,20.83 323.43,21.08 323.44,21.33 323.45,21.58 323.47,21.83 323.49,22.08 323.51,22.33 323.53,22.58 323.55,22.83 323.58,23.08 323.62,23.33 323.65,23.58 323.69,23.83 323.73,24.08 323.78,24.33 323.82,24.58 323.87,24.83 323.91,25.08 323.95,25.33 323.99,25.58 324.02,25.83 324.05,26.08 324.07,26.33 324.09,26.58 324.10,26.83 324.10,27.08 324.09,27.33 324.08,27.58 324.06,27.83 324.03,28.08 324.00,28.33 323.96,28.58 323.92,28.83 323.88,29.08 323.84,29.33 323.79,29.58 323.75,29.83 323.71,30.08 323.67,30.33 323.63,30.58 323.60,30.83 323.57,31.08 323.54,31.33 323.51,31.58 323.49,31.83 323.47,32.08 323.46,32.33 323.45,32.58 323.44,32.83 323.43,33.08 323.42,33.33 323.42,33.58 323.42,33.83 323.42,34.08 323.42,34.33 323.42,34.58 323.42,34.83 323.42,35.08 323.42,35.33 323.42,35.58 323.42,35.83 323.42,36.08 323.42,36.33 323.42,36.58 323.42,36.83 323.42,37.08 323.42,37.33 323.42,37.58 323.42,37.83 323.42,38.08 323.43,38.33 323.44,38.58 323.46,38.83 323.48,39.08 323.51,39.33 323.54,39.58 323.59,39.83 323.64,40.08 323.72,40.33 323.80,40.58 323.91,40.83 324.03,41.08 324.18,41.33 324.35,41.58 324.55,41.83 324.77,42.08 325.02,42.33 325.30,42.58 325.60,42.83 325.91,43.08 326.24,43.33 326.58,43.58 326.92,43.83 327.26,44.08 327.58,44.33 327.88,44.58 328.15,44.83 328.38,45.08 328.56,45.33 328.70,45.58 328.78,45.83 328.80,46.08 328.76,46.33 328.67,46.58 328.52,46.83 328.32,47.08 328.08,47.33 327.81,47.58 327.50,47.83 327.18,48.08 326.84,48.33 326.50,48.58 326.16,48.83 325.83,49.08 325.52,49.33 325.23,49.58 324.96,49.83 324.72,50.08 324.50,50.33 324.31,50.58 324.14,50.83 324.00,51.08 323.88,51.33 323.78,51.58 323.70,51.83 323.63,52.08 323.58,52.33 323.53,52.58 323.50,52.83 323.47,53.08 323.45,53.33 323.44,53.58 323.43,53.83 323.42,54.08 323.42,54.33 323.42,54.58 323.42,54.83 323.42,55.08 323.42,55.33 323.42,55.58 323.42,55.83 323.42,56.08 323.42,56.33 323.42,56.58 323.43,56.83 323.44,57.08 323.45,57.33 323.47,57.58 323.50,57.83 323.53,58.08 323.58,58.33 323.63,58.58 323.71,58.83 323.80,59.08 323.92,59.33 324.07,59.58 324.24,59.83 324.45,60.08 324.70,60.33 325.00,60.58 325.33,60.83 325.71,61.08 326.14,61.33 326.61,61.58 327.12,61.83 327.66,62.08 328.23,62.33 328.82,62.58 329.41,62.83 330.00,63.08 330.56,63.33 331.09,63.58 331.57,63.83 331.99,64.08 332.33,64.33 332.58,64.58 332.74,64.83 332.80,65.08 332.76,65.33 332.61,65.58 332.38,65.83 332.05,66.08 331.64,66.33 331.17,66.58 330.65,66.83 330.09,67.08 329.50,67.33 328.91,67.58 328.32,67.83 327.75,68.08 327.20,68.33 326.69,68.58 326.21,68.83 325.78,69.08 325.39,69.33 325.05,69.58 324.75,69.83 324.49,70.08 324.27,70.33 324.09,70.58 323.94,70.83 323.82,71.08 323.72,71.33 323.65,71.58 323.58,71.83 323.54,72.08 323.50,72.33 323.47,72.58 323.45,72.83 323.44,73.08 323.43,73.33 323.42,73.58 323.42,73.83 323.42,74.08 323.42,74.33 323.42,74.58 323.42,74.83 323.42,75.08 323.42,75.33 323.42,75.58 323.42,75.83 323.42,76.08 323.42,76.33 323.42,76.58 323.42,76.83 323.42,77.08 323.42,77.33 323.43,77.58 323.44,77.83 323.45,78.08 323.47,78.33 323.49,78.58 323.51,78.83 323.54,79.08 323.57,79.33 323.61,79.58 323.66,79.83 323.71,80.08 323.77,80.33 323.83,80.58 323.90,80.83 323.97,81.08 324.05,81.33 324.13,81.58 324.21,81.83 324.30,82.08 324.38,82.33 324.45,82.58 324.52,82.83 324.58,83.08 324.63,83.33 324.66,83.58 324.69,83.83 324.70,84.08 324.70,84.33 324.68,84.58 324.65,84.83 324.61,85.08 324.55,85.33 324.49,85.58 324.42,85.83 324.34,86.08 324.26,86.33 324.18,86.58 324.10,86.83 324.02,87.08 323.94,87.33 323.87,87.58 323.80,87.83 323.74,88.08 323.69,88.33 323.64,88.58 323.59,88.83 323.56,89.08 323.53,89.33 323.50,89.58 323.48,89.83 323.46,90.08 323.45,90.33 323.44,90.58 323.43,90.83 323.42,91.08 323.42,91.33 323.38,91.33 323.38,91.08 323.37,90.83 323.36,90.58 323.35,90.33 323.34,90.08 323.32,89.83 323.30,89.58 323.27,89.33 323.24,89.08 323.21,88.83 323.16,88.58 323.11,88.33 323.06,88.08 323.00,87.83 322.93,87.58 322.86,87.33 322.78,87.08 322.70,86.83 322.62,86.58 322.54,86.33 322.46,86.08 322.38,85.83 322.31,85.58 322.25,85.33 322.19,85.08 322.15,84.83 322.12,84.58 322.10,84.33 322.10,84.08 322.11,83.83 322.14,83.58 322.17,83.33 322.22,83.08 322.28,82.83 322.35,82.58 322.42,82.33 322.50,82.08 322.59,81.83 322.67,81.58 322.75,81.33 322.83,81.08 322.90,80.83 322.97,80.58 323.03,80.33 323.09,80.08 323.14,79.83 323.19,79.58 323.23,79.33 323.26,79.08 323.29,78.83 323.31,78.58 323.33,78.33 323.35,78.08 323.36,77.83 323.37,77.58 323.38,77.33 323.38,77.08 323.38,76.83 323.38,76.58 323.38,76.33 323.38,76.08 323.38,75.83 323.38,75.58 323.38,75.33 323.38,75.08 323.38,74.83 323.38,74.58 323.38,74.33 323.38,74.08 323.38,73.83 323.38,73.58 323.37,73.33 323.36,73.08 323.35,72.83 323.33,72.58 323.30,72.33 323.26,72.08 323.22,71.83 323.15,71.58 323.08,71.33 322.98,71.08 322.86,70.83 322.71,70.58 322.53,70.33 322.31,70.08 322.05,69.83 321.75,69.58 321.41,69.33 321.02,69.08 320.59,68.83 320.11,68.58 319.60,68.33 319.05,68.08 318.48,67.83 317.89,67.58 317.30,67.33 316.71,67.08 316.15,66.83 315.63,66.58 315.16,66.33 314.75,66.08 314.42,65.83 314.19,65.58 314.04,65.33 314.00,65.08 314.06,64.83 314.22,64.58 314.47,64.33 314.81,64.08 315.23,63.83 315.71,63.58 316.24,63.33 316.80,63.08 317.39,62.83 317.98,62.58 318.57,62.33 319.14,62.08 319.68,61.83 320.19,61.58 320.66,61.33 321.09,61.08 321.47,60.83 321.80,60.58 322.10,60.33 322.35,60.08 322.56,59.83 322.73,59.58 322.88,59.33 323.00,59.08 323.09,58.83 323.17,58.58 323.22,58.33 323.27,58.08 323.30,57.83 323.33,57.58 323.35,57.33 323.36,57.08 323.37,56.83 323.38,56.58 323.38,56.33 323.38,56.08 323.38,55.83 323.38,55.58 323.38,55.33 323.38,55.08 323.38,54.83 323.38,54.58 323.38,54.33 323.38,54.08 323.37,53.83 323.36,53.58 323.35,53.33 323.33,53.08 323.30,52.83 323.27,52.58 323.22,52.33 323.17,52.08 323.10,51.83 323.02,51.58 322.92,51.33 322.80,51.08 322.66,50.83 322.49,50.58 322.30,50.33 322.08,50.08 321.84,49.83 321.57,49.58 321.28,49.33 320.97,49.08 320.64,48.83 320.30,48.58 319.96,48.33 319.62,48.08 319.30,47.83 318.99,47.58 318.72,47.33 318.48,47.08 318.28,46.83 318.13,46.58 318.04,46.33 318.00,46.08 318.02,45.83 318.10,45.58 318.24,45.33 318.42,45.08 318.65,44.83 318.92,44.58 319.22,44.33 319.54,44.08 319.88,43.83 320.22,43.58 320.56,43.33 320.89,43.08 321.20,42.83 321.50,42.58 321.78,42.33 322.03,42.08 322.25,41.83 322.45,41.58 322.62,41.33 322.77,41.08 322.89,40.83 323.00,40.58 323.08,40.33 323.16,40.08 323.21,39.83 323.26,39.58 323.29,39.33 323.32,39.08 323.34,38.83 323.36,38.58 323.37,38.33 323.38,38.08 323.38,37.83 323.38,37.58 323.38,37.33 323.38,37.08 323.38,36.83 323.38,36.58 323.38,36.33 323.38,36.08 323.38,35.83 323.38,35.58 323.38,35.33 323.38,35.08 323.38,34.83 323.38,34.58 323.38,34.33 323.38,34.08 323.38,33.83 323.38,33.58 323.38,33.33 323.37,33.08 323.36,32.83 323.35,32.58 323.34,32.33 323.33,32.08 323.31,31.83 323.29,31.58 323.26,31.33 323.23,31.08 323.20,30.83 323.17,30.58 323.13,30.33 323.09,30.08 323.05,29.83 323.01,29.58 322.96,29.33 322.92,29.08 322.88,28.83 322.84,28.58 322.80,28.33 322.77,28.08 322.74,27.83 322.72,27.58 322.71,27.33 322.70,27.08 322.70,26.83 322.71,26.58 322.73,26.33 322.75,26.08 322.78,25.83 322.81,25.58 322.85,25.33 322.89,25.08 322.93,24.83 322.98,24.58 323.02,24.33 323.07,24.08 323.11,23.83 323.15,23.58 323.18,23.33 323.22,23.08 323.25,22.83 323.27,22.58 323.29,22.33 323.31,22.08 323.33,21.83 323.35,21.58 323.36,21.33 323.37,21.08 323.37,20.83 323.38,20.58 323.38,20.33 323.38,20.08 323.38,19.83 323.38,19.58 323.38,19.33 323.38,19.08" fill="#dc4b6c" stroke="#2a2a2a" stroke-width="0.7" stroke-linejoin="round"/>
<line x1="323.4" y1="27.00" x2="323.4" y2="84.15" stroke="#333" stroke-width="0.55"/>
<rect x="321.50" y="46.05" width="3.8" height="19.05" fill="#fff" stroke="#333" stroke-width="0.5"/>
<line x1="321.5" y1="65.10" x2="325.29999999999995" y2="65.10" stroke="#222" stroke-width="1"/>
<polygon points="391.32,95.20 391.32,95.35 391.32,95.50 391.32,95.65 391.33,95.80 391.34,95.95 391.35,96.10 391.37,96.25 391.40,96.40 391.43,96.55 391.46,96.70 391.50,96.85 391.53,97.00 391.57,97.15 391.60,97.30 391.62,97.45 391.64,97.60 391.65,97.75 391.65,97.90 391.64,98.05 391.62,98.20 391.59,98.35 391.56,98.50 391.52,98.65 391.48,98.80 391.45,98.95 391.42,99.10 391.39,99.25 391.37,99.40 391.35,99.55 391.33,99.70 391.32,99.85 391.32,100.00 391.32,100.15 391.32,100.30 391.32,100.45 391.32,100.60 391.32,100.75 391.32,100.90 391.32,101.05 391.33,101.20 391.34,101.35 391.35,101.50 391.37,101.65 391.40,101.80 391.43,101.95 391.46,102.10 391.50,102.25 391.54,102.40 391.58,102.55 391.62,102.70 391.66,102.85 391.68,103.00 391.70,103.15 391.70,103.30 391.69,103.45 391.67,103.60 391.65,103.75 391.61,103.90 391.57,104.05 391.53,104.20 391.49,104.35 391.45,104.50 391.42,104.65 391.39,104.80 391.37,104.95 391.35,105.10 391.33,105.25 391.32,105.40 391.32,105.55 391.32,105.70 391.32,105.85 391.32,106.00 391.32,106.15 391.32,106.30 391.32,106.45 391.32,106.60 391.33,106.75 391.35,106.90 391.37,107.05 391.40,107.20 391.43,107.35 391.46,107.50 391.51,107.65 391.55,107.80 391.60,107.95 391.64,108.10 391.68,108.25 391.72,108.40 391.74,108.55 391.75,108.70 391.75,108.85 391.73,109.00 391.71,109.15 391.67,109.30 391.63,109.45 391.58,109.60 391.54,109.75 391.49,109.90 391.45,110.05 391.42,110.20 391.39,110.35 391.36,110.50 391.34,110.65 391.33,110.80 391.32,110.95 391.32,111.10 391.32,111.25 391.32,111.40 391.32,111.55 391.32,111.70 391.32,111.85 391.34,112.00 391.36,112.15 391.38,112.30 391.42,112.45 391.46,112.60 391.52,112.75 391.59,112.90 391.67,113.05 391.76,113.20 391.85,113.35 391.94,113.50 392.03,113.65 392.10,113.80 392.16,113.95 392.19,114.10 392.20,114.25 392.18,114.40 392.14,114.55 392.08,114.70 392.00,114.85 391.91,115.00 391.82,115.15 391.73,115.30 391.64,115.45 391.57,115.60 391.50,115.75 391.45,115.90 391.41,116.05 391.37,116.20 391.35,116.35 391.34,116.50 391.33,116.65 391.34,116.80 391.35,116.95 391.38,117.10 391.43,117.25 391.50,117.40 391.60,117.55 391.75,117.70 391.96,117.85 392.23,118.00 392.57,118.15 392.99,118.30 393.49,118.45 394.05,118.60 394.65,118.75 395.27,118.90 395.87,119.05 396.41,119.20 396.84,119.35 397.15,119.50 397.29,119.65 397.26,119.80 397.06,119.95 396.71,120.10 396.24,120.25 395.67,120.40 395.06,120.55 394.45,120.70 393.85,120.85 393.32,121.00 392.84,121.15 392.45,121.30 392.13,121.45 391.89,121.60 391.71,121.75 391.58,121.90 391.50,122.05 391.46,122.20 391.46,122.35 391.49,122.50 391.58,122.65 391.73,122.80 391.96,122.95 392.29,123.10 392.75,123.25 393.38,123.40 394.19,123.55 395.20,123.70 396.42,123.85 397.82,124.00 399.37,124.15 401.00,124.30 402.62,124.45 404.14,124.60 405.45,124.75 406.44,124.90 407.04,125.05 407.19,125.20 406.89,125.35 406.15,125.50 405.04,125.65 403.66,125.80 402.09,125.95 400.45,126.10 398.84,126.25 397.33,126.40 395.99,126.55 394.84,126.70 393.90,126.85 393.15,127.00 392.59,127.15 392.17,127.30 391.89,127.45 391.70,127.60 391.60,127.75 391.56,127.90 391.60,128.05 391.70,128.20 391.89,128.35 392.18,128.50 392.61,128.65 393.19,128.80 393.96,128.95 394.95,129.10 396.15,129.25 397.57,129.40 399.17,129.55 400.90,129.70 402.68,129.85 404.39,130.00 405.94,130.15 407.19,130.30 408.06,130.45 408.47,130.60 408.39,130.75 407.82,130.90 406.81,131.05 405.45,131.20 403.84,131.35 402.09,131.50 400.32,131.65 398.62,131.80 397.08,131.95 395.73,132.10 394.59,132.25 393.68,132.40 392.97,132.55 392.44,132.70 392.06,132.85 391.80,133.00 391.63,133.15 391.52,133.30 391.47,133.45 391.47,133.60 391.51,133.75 391.59,133.90 391.72,134.05 391.91,134.20 392.17,134.35 392.50,134.50 392.92,134.65 393.42,134.80 394.01,134.95 394.65,135.10 395.33,135.25 396.00,135.40 396.63,135.55 397.17,135.70 397.59,135.85 397.83,136.00 397.90,136.15 397.77,136.30 397.46,136.45 397.01,136.60 396.43,136.75 395.78,136.90 395.10,137.05 394.43,137.20 393.80,137.35 393.25,137.50 392.77,137.65 392.38,137.80 392.07,137.95 391.83,138.10 391.66,138.25 391.53,138.40 391.45,138.55 391.39,138.70 391.36,138.85 391.34,139.00 391.33,139.15 391.33,139.30 391.34,139.45 391.36,139.60 391.38,139.75 391.41,139.90 391.45,140.05 391.50,140.20 391.56,140.35 391.62,140.50 391.69,140.65 391.76,140.80 391.83,140.95 391.90,141.10 391.95,141.25 391.98,141.40 392.00,141.55 392.00,141.70 391.97,141.85 391.93,142.00 391.88,142.15 391.81,142.30 391.74,142.45 391.67,142.60 391.60,142.75 391.54,142.90 391.48,143.05 391.43,143.20 391.40,143.35 391.37,143.50 391.35,143.65 391.33,143.80 391.32,143.95 391.32,144.10 391.32,144.25 391.32,144.40 391.28,144.40 391.28,144.25 391.28,144.10 391.28,143.95 391.27,143.80 391.25,143.65 391.23,143.50 391.20,143.35 391.17,143.20 391.12,143.05 391.06,142.90 391.00,142.75 390.93,142.60 390.86,142.45 390.79,142.30 390.72,142.15 390.67,142.00 390.63,141.85 390.60,141.70 390.60,141.55 390.62,141.40 390.65,141.25 390.70,141.10 390.77,140.95 390.84,140.80 390.91,140.65 390.98,140.50 391.04,140.35 391.10,140.20 391.15,140.05 391.19,139.90 391.22,139.75 391.24,139.60 391.26,139.45 391.27,139.30 391.27,139.15 391.26,139.00 391.24,138.85 391.21,138.70 391.15,138.55 391.07,138.40 390.94,138.25 390.77,138.10 390.53,137.95 390.22,137.80 389.83,137.65 389.35,137.50 388.80,137.35 388.17,137.20 387.50,137.05 386.82,136.90 386.17,136.75 385.59,136.60 385.14,136.45 384.83,136.30 384.70,136.15 384.77,136.00 385.01,135.85 385.43,135.70 385.97,135.55 386.60,135.40 387.27,135.25 387.95,135.10 388.59,134.95 389.18,134.80 389.68,134.65 390.10,134.50 390.43,134.35 390.69,134.20 390.88,134.05 391.01,133.90 391.09,133.75 391.13,133.60 391.13,133.45 391.08,133.30 390.97,133.15 390.80,133.00 390.54,132.85 390.16,132.70 389.63,132.55 388.92,132.40 388.01,132.25 386.87,132.10 385.52,131.95 383.98,131.80 382.28,131.65 380.51,131.50 378.76,131.35 377.15,131.20 375.79,131.05 374.78,130.90 374.21,130.75 374.13,130.60 374.54,130.45 375.41,130.30 376.66,130.15 378.21,130.00 379.92,129.85 381.70,129.70 383.43,129.55 385.03,129.40 386.45,129.25 387.65,129.10 388.64,128.95 389.41,128.80 389.99,128.65 390.42,128.50 390.71,128.35 390.90,128.20 391.00,128.05 391.04,127.90 391.00,127.75 390.90,127.60 390.71,127.45 390.43,127.30 390.01,127.15 389.45,127.00 388.70,126.85 387.76,126.70 386.61,126.55 385.27,126.40 383.76,126.25 382.15,126.10 380.51,125.95 378.94,125.80 377.56,125.65 376.45,125.50 375.71,125.35 375.41,125.20 375.56,125.05 376.16,124.90 377.15,124.75 378.46,124.60 379.98,124.45 381.60,124.30 383.23,124.15 384.78,124.00 386.18,123.85 387.40,123.70 388.41,123.55 389.22,123.40 389.85,123.25 390.31,123.10 390.64,122.95 390.87,122.80 391.02,122.65 391.11,122.50 391.14,122.35 391.14,122.20 391.10,122.05 391.02,121.90 390.89,121.75 390.71,121.60 390.47,121.45 390.15,121.30 389.76,121.15 389.28,121.00 388.75,120.85 388.15,120.70 387.54,120.55 386.93,120.40 386.36,120.25 385.89,120.10 385.54,119.95 385.34,119.80 385.31,119.65 385.45,119.50 385.76,119.35 386.19,119.20 386.73,119.05 387.33,118.90 387.95,118.75 388.55,118.60 389.11,118.45 389.61,118.30 390.03,118.15 390.37,118.00 390.64,117.85 390.85,117.70 391.00,117.55 391.10,117.40 391.17,117.25 391.22,117.10 391.25,116.95 391.26,116.80 391.27,116.65 391.26,116.50 391.25,116.35 391.23,116.20 391.19,116.05 391.15,115.90 391.10,115.75 391.03,115.60 390.96,115.45 390.87,115.30 390.78,115.15 390.69,115.00 390.60,114.85 390.52,114.70 390.46,114.55 390.42,114.40 390.40,114.25 390.41,114.10 390.44,113.95 390.50,113.80 390.57,113.65 390.66,113.50 390.75,113.35 390.84,113.20 390.93,113.05 391.01,112.90 391.08,112.75 391.14,112.60 391.18,112.45 391.22,112.30 391.24,112.15 391.26,112.00 391.28,111.85 391.28,111.70 391.28,111.55 391.28,111.40 391.28,111.25 391.28,111.10 391.28,110.95 391.27,110.80 391.26,110.65 391.24,110.50 391.21,110.35 391.18,110.20 391.15,110.05 391.11,109.90 391.06,109.75 391.02,109.60 390.97,109.45 390.93,109.30 390.89,109.15 390.87,109.00 390.85,108.85 390.85,108.70 390.86,108.55 390.88,108.40 390.92,108.25 390.96,108.10 391.00,107.95 391.05,107.80 391.09,107.65 391.14,107.50 391.17,107.35 391.20,107.20 391.23,107.05 391.25,106.90 391.27,106.75 391.28,106.60 391.28,106.45 391.28,106.30 391.28,106.15 391.28,106.00 391.28,105.85 391.28,105.70 391.28,105.55 391.28,105.40 391.27,105.25 391.25,105.10 391.23,104.95 391.21,104.80 391.18,104.65 391.15,104.50 391.11,104.35 391.07,104.20 391.03,104.05 390.99,103.90 390.95,103.75 390.93,103.60 390.91,103.45 390.90,103.30 390.90,103.15 390.92,103.00 390.94,102.85 390.98,102.70 391.02,102.55 391.06,102.40 391.10,102.25 391.14,102.10 391.17,101.95 391.20,101.80 391.23,101.65 391.25,101.50 391.26,101.35 391.27,101.20 391.28,101.05 391.28,100.90 391.28,100.75 391.28,100.60 391.28,100.45 391.28,100.30 391.28,100.15 391.28,100.00 391.28,99.85 391.27,99.70 391.25,99.55 391.23,99.40 391.21,99.25 391.18,99.10 391.15,98.95 391.12,98.80 391.08,98.65 391.04,98.50 391.01,98.35 390.98,98.20 390.96,98.05 390.95,97.90 390.95,97.75 390.96,97.60 390.98,97.45 391.00,97.30 391.03,97.15 391.07,97.00 391.10,96.85 391.14,96.70 391.17,96.55 391.20,96.40 391.23,96.25 391.25,96.10 391.26,95.95 391.27,95.80 391.28,95.65 391.28,95.50 391.28,95.35 391.28,95.20" fill="#6cc8b0" stroke="#2a2a2a" stroke-width="0.7" stroke-linejoin="round"/>
<line x1="391.3" y1="119.70" x2="391.3" y2="136.12" stroke="#333" stroke-width="0.55"/>
<rect x="389.40" y="125.88" width="3.8" height="4.47" fill="#fff" stroke="#333" stroke-width="0.5"/>
<circle cx="391.3" cy="141.6" r="1.35" fill="#222"/>
<circle cx="391.3" cy="114.2" r="1.35" fill="#222"/>
<circle cx="391.3" cy="108.8" r="1.35" fill="#222"/>
<circle cx="391.3" cy="103.3" r="1.35" fill="#222"/>
<circle cx="391.3" cy="97.8" r="1.35" fill="#222"/>
<polygon points="428.69,63.80 428.69,64.05 428.70,64.30 428.70,64.55 428.70,64.80 428.70,65.05 428.70,65.30 428.70,65.55 428.70,65.80 428.70,66.05 428.70,66.30 428.70,66.55 428.69,66.80 428.69,67.05 428.69,67.30 428.70,67.55 428.70,67.80 428.70,68.05 428.71,68.30 428.72,68.55 428.72,68.80 428.73,69.05 428.74,69.30 428.74,69.55 428.75,69.80 428.75,70.05 428.75,70.30 428.76,70.55 428.75,70.80 428.75,71.05 428.75,71.30 428.74,71.55 428.73,71.80 428.73,72.05 428.72,72.30 428.71,72.55 428.71,72.80 428.71,73.05 428.70,73.30 428.70,73.55 428.71,73.80 428.71,74.05 428.71,74.30 428.71,74.55 428.72,74.80 428.72,75.05 428.72,75.30 428.73,75.55 428.73,75.80 428.73,76.05 428.73,76.30 428.72,76.55 428.72,76.80 428.72,77.05 428.71,77.30 428.71,77.55 428.71,77.80 428.71,78.05 428.70,78.30 428.71,78.55 428.71,78.80 428.71,79.05 428.72,79.30 428.72,79.55 428.73,79.80 428.74,80.05 428.74,80.30 428.75,80.55 428.75,80.80 428.76,81.05 428.76,81.30 428.77,81.55 428.77,81.80 428.77,82.05 428.77,82.30 428.77,82.55 428.77,82.80 428.78,83.05 428.79,83.30 428.80,83.55 428.81,83.80 428.83,84.05 428.85,84.30 428.88,84.55 428.90,84.80 428.93,85.05 428.96,85.30 428.99,85.55 429.02,85.80 429.04,86.05 429.07,86.30 429.09,86.55 429.11,86.80 429.13,87.05 429.15,87.30 429.17,87.55 429.20,87.80 429.24,88.05 429.29,88.30 429.35,88.55 429.43,88.80 429.53,89.05 429.64,89.30 429.77,89.55 429.92,89.80 430.09,90.05 430.26,90.30 430.44,90.55 430.62,90.80 430.79,91.05 430.94,91.30 431.07,91.55 431.18,91.80 431.26,92.05 431.31,92.30 431.33,92.55 431.32,92.80 431.29,93.05 431.25,93.30 431.21,93.55 431.16,93.80 431.13,94.05 431.13,94.30 431.15,94.55 431.21,94.80 431.30,95.05 431.43,95.30 431.59,95.55 431.79,95.80 432.00,96.05 432.22,96.30 432.43,96.55 432.63,96.80 432.80,97.05 432.94,97.30 433.03,97.55 433.07,97.80 433.06,98.05 433.01,98.30 432.92,98.55 432.79,98.80 432.65,99.05 432.50,99.30 432.37,99.55 432.25,99.80 432.17,100.05 432.12,100.30 432.13,100.55 432.18,100.80 432.28,101.05 432.42,101.30 432.59,101.55 432.77,101.80 432.96,102.05 433.14,102.30 433.30,102.55 433.42,102.80 433.49,103.05 433.52,103.30 433.49,103.55 433.42,103.80 433.30,104.05 433.16,104.30 432.99,104.55 432.82,104.80 432.66,105.05 432.53,105.30 432.43,105.55 432.37,105.80 432.37,106.05 432.41,106.30 432.51,106.55 432.65,106.80 432.81,107.05 433.00,107.30 433.19,107.55 433.37,107.80 433.52,108.05 433.64,108.30 433.71,108.55 433.72,108.80 433.69,109.05 433.60,109.30 433.47,109.55 433.31,109.80 433.13,110.05 432.94,110.30 432.76,110.55 432.61,110.80 432.49,111.05 432.42,111.30 432.40,111.55 432.44,111.80 432.52,112.05 432.64,112.30 432.79,112.55 432.97,112.80 433.14,113.05 433.31,113.30 433.45,113.55 433.55,113.80 433.61,114.05 433.61,114.30 433.57,114.55 433.47,114.80 433.33,115.05 433.16,115.30 432.97,115.55 432.77,115.80 432.59,116.05 432.42,116.30 432.29,116.55 432.20,116.80 432.16,117.05 432.17,117.30 432.22,117.55 432.31,117.80 432.43,118.05 432.57,118.30 432.72,118.55 432.85,118.80 432.96,119.05 433.04,119.30 433.07,119.55 433.05,119.80 432.99,120.05 432.87,120.30 432.71,120.55 432.52,120.80 432.30,121.05 432.07,121.30 431.83,121.55 431.61,121.80 431.41,122.05 431.23,122.30 431.09,122.55 430.98,122.80 430.91,123.05 430.87,123.30 430.86,123.55 430.87,123.80 430.89,124.05 430.91,124.30 430.93,124.55 430.94,124.80 430.93,125.05 430.90,125.30 430.85,125.55 430.78,125.80 430.68,126.05 430.57,126.30 430.45,126.55 430.31,126.80 430.18,127.05 430.05,127.30 429.93,127.55 429.82,127.80 429.73,128.05 429.65,128.30 429.59,128.55 429.55,128.80 429.52,129.05 429.50,129.30 429.49,129.55 429.48,129.80 429.48,130.05 429.47,130.30 429.46,130.55 429.45,130.80 429.43,131.05 429.40,131.30 429.36,131.55 429.32,131.80 429.27,132.05 429.22,132.30 429.17,132.55 429.13,132.80 429.08,133.05 429.04,133.30 429.01,133.55 428.98,133.80 428.96,134.05 428.95,134.30 428.94,134.55 428.93,134.80 428.93,135.05 428.93,135.30 428.93,135.55 428.93,135.80 428.92,136.05 428.91,136.30 428.29,136.30 428.28,136.05 428.27,135.80 428.27,135.55 428.27,135.30 428.27,135.05 428.27,134.80 428.26,134.55 428.25,134.30 428.24,134.05 428.22,133.80 428.19,133.55 428.16,133.30 428.12,133.05 428.07,132.80 428.03,132.55 427.98,132.30 427.93,132.05 427.88,131.80 427.84,131.55 427.80,131.30 427.77,131.05 427.75,130.80 427.74,130.55 427.73,130.30 427.72,130.05 427.72,129.80 427.71,129.55 427.70,129.30 427.68,129.05 427.65,128.80 427.61,128.55 427.55,128.30 427.47,128.05 427.38,127.80 427.27,127.55 427.15,127.30 427.02,127.05 426.89,126.80 426.75,126.55 426.63,126.30 426.52,126.05 426.42,125.80 426.35,125.55 426.30,125.30 426.27,125.05 426.26,124.80 426.27,124.55 426.29,124.30 426.31,124.05 426.33,123.80 426.34,123.55 426.33,123.30 426.29,123.05 426.22,122.80 426.11,122.55 425.97,122.30 425.79,122.05 425.59,121.80 425.37,121.55 425.13,121.30 424.90,121.05 424.68,120.80 424.49,120.55 424.33,120.30 424.21,120.05 424.15,119.80 424.13,119.55 424.16,119.30 424.24,119.05 424.35,118.80 424.48,118.55 424.63,118.30 424.77,118.05 424.89,117.80 424.98,117.55 425.03,117.30 425.04,117.05 425.00,116.80 424.91,116.55 424.78,116.30 424.61,116.05 424.43,115.80 424.23,115.55 424.04,115.30 423.87,115.05 423.73,114.80 423.63,114.55 423.59,114.30 423.59,114.05 423.65,113.80 423.75,113.55 423.89,113.30 424.06,113.05 424.23,112.80 424.41,112.55 424.56,112.30 424.68,112.05 424.76,111.80 424.80,111.55 424.78,111.30 424.71,111.05 424.59,110.80 424.44,110.55 424.26,110.30 424.07,110.05 423.89,109.80 423.73,109.55 423.60,109.30 423.51,109.05 423.48,108.80 423.49,108.55 423.56,108.30 423.68,108.05 423.83,107.80 424.01,107.55 424.20,107.30 424.39,107.05 424.55,106.80 424.69,106.55 424.79,106.30 424.83,106.05 424.83,105.80 424.77,105.55 424.67,105.30 424.54,105.05 424.38,104.80 424.21,104.55 424.04,104.30 423.90,104.05 423.78,103.80 423.71,103.55 423.68,103.30 423.71,103.05 423.78,102.80 423.90,102.55 424.06,102.30 424.24,102.05 424.43,101.80 424.61,101.55 424.78,101.30 424.92,101.05 425.02,100.80 425.07,100.55 425.08,100.30 425.03,100.05 424.95,99.80 424.83,99.55 424.70,99.30 424.55,99.05 424.41,98.80 424.28,98.55 424.19,98.30 424.14,98.05 424.13,97.80 424.17,97.55 424.26,97.30 424.40,97.05 424.57,96.80 424.77,96.55 424.98,96.30 425.20,96.05 425.41,95.80 425.61,95.55 425.77,95.30 425.90,95.05 425.99,94.80 426.05,94.55 426.07,94.30 426.07,94.05 426.04,93.80 425.99,93.55 425.95,93.30 425.91,93.05 425.88,92.80 425.87,92.55 425.89,92.30 425.94,92.05 426.02,91.80 426.13,91.55 426.26,91.30 426.41,91.05 426.58,90.80 426.76,90.55 426.94,90.30 427.11,90.05 427.28,89.80 427.43,89.55 427.56,89.30 427.67,89.05 427.77,88.80 427.85,88.55 427.91,88.30 427.96,88.05 428.00,87.80 428.03,87.55 428.05,87.30 428.07,87.05 428.09,86.80 428.11,86.55 428.13,86.30 428.16,86.05 428.18,85.80 428.21,85.55 428.24,85.30 428.27,85.05 428.30,84.80 428.32,84.55 428.35,84.30 428.37,84.05 428.39,83.80 428.40,83.55 428.41,83.30 428.42,83.05 428.43,82.80 428.43,82.55 428.43,82.30 428.43,82.05 428.43,81.80 428.43,81.55 428.44,81.30 428.44,81.05 428.45,80.80 428.45,80.55 428.46,80.30 428.46,80.05 428.47,79.80 428.48,79.55 428.48,79.30 428.49,79.05 428.49,78.80 428.49,78.55 428.50,78.30 428.49,78.05 428.49,77.80 428.49,77.55 428.49,77.30 428.48,77.05 428.48,76.80 428.48,76.55 428.47,76.30 428.47,76.05 428.47,75.80 428.47,75.55 428.48,75.30 428.48,75.05 428.48,74.80 428.49,74.55 428.49,74.30 428.49,74.05 428.49,73.80 428.50,73.55 428.50,73.30 428.49,73.05 428.49,72.80 428.49,72.55 428.48,72.30 428.47,72.05 428.47,71.80 428.46,71.55 428.45,71.30 428.45,71.05 428.45,70.80 428.44,70.55 428.45,70.30 428.45,70.05 428.45,69.80 428.46,69.55 428.46,69.30 428.47,69.05 428.48,68.80 428.48,68.55 428.49,68.30 428.50,68.05 428.50,67.80 428.50,67.55 428.51,67.30 428.51,67.05 428.51,66.80 428.50,66.55 428.50,66.30 428.50,66.05 428.50,65.80 428.50,65.55 428.50,65.30 428.50,65.05 428.50,64.80 428.50,64.55 428.50,64.30 428.51,64.05 428.51,63.80" fill="#d5b25f" stroke="#2a2a2a" stroke-width="0.7" stroke-linejoin="round"/>
<line x1="428.6" y1="75.90" x2="428.6" y2="136.12" stroke="#333" stroke-width="0.55"/>
<rect x="426.60" y="98.35" width="4.0" height="15.88" fill="#fff" stroke="#333" stroke-width="0.5"/>
<rect x="426.70" y="108.15" width="3.8" height="1.2" fill="#222"/>
<circle cx="428.6" cy="70.4" r="1.3" fill="#222"/>
<polygon points="466.69,16.70 466.69,16.95 466.68,17.20 466.68,17.45 466.67,17.70 466.67,17.95 466.66,18.20 466.66,18.45 466.65,18.70 466.65,18.95 466.64,19.20 466.64,19.45 466.63,19.70 466.63,19.95 466.63,20.20 466.62,20.45 466.62,20.70 466.62,20.95 466.62,21.20 466.62,21.45 466.62,21.70 466.63,21.95 466.63,22.20 466.63,22.45 466.63,22.70 466.64,22.95 466.64,23.20 466.65,23.45 466.65,23.70 466.66,23.95 466.67,24.20 466.67,24.45 466.68,24.70 466.68,24.95 466.69,25.20 466.69,25.45 466.69,25.70 466.70,25.95 466.70,26.20 466.70,26.45 466.70,26.70 466.70,26.95 466.70,27.20 466.70,27.45 466.69,27.70 466.69,27.95 466.68,28.20 466.68,28.45 466.67,28.70 466.67,28.95 466.66,29.20 466.66,29.45 466.65,29.70 466.65,29.95 466.64,30.20 466.64,30.45 466.63,30.70 466.63,30.95 466.63,31.20 466.63,31.45 466.63,31.70 466.63,31.95 466.63,32.20 466.63,32.45 466.63,32.70 466.64,32.95 466.64,33.20 466.65,33.45 466.65,33.70 466.66,33.95 466.67,34.20 466.67,34.45 466.68,34.70 466.69,34.95 466.70,35.20 466.71,35.45 466.72,35.70 466.73,35.95 466.74,36.20 466.75,36.45 466.75,36.70 466.76,36.95 466.77,37.20 466.77,37.45 466.78,37.70 466.79,37.95 466.79,38.20 466.79,38.45 466.80,38.70 466.80,38.95 466.81,39.20 466.81,39.45 466.82,39.70 466.83,39.95 466.83,40.20 466.84,40.45 466.85,40.70 466.86,40.95 466.87,41.20 466.88,41.45 466.89,41.70 466.90,41.95 466.91,42.20 466.92,42.45 466.93,42.70 466.95,42.95 466.96,43.20 466.98,43.45 467.00,43.70 467.01,43.95 467.04,44.20 467.06,44.45 467.08,44.70 467.11,44.95 467.14,45.20 467.18,45.45 467.21,45.70 467.25,45.95 467.29,46.20 467.33,46.45 467.38,46.70 467.42,46.95 467.47,47.20 467.52,47.45 467.57,47.70 467.62,47.95 467.67,48.20 467.73,48.45 467.79,48.70 467.85,48.95 467.92,49.20 467.99,49.45 468.07,49.70 468.16,49.95 468.26,50.20 468.36,50.45 468.47,50.70 468.59,50.95 468.71,51.20 468.84,51.45 468.97,51.70 469.10,51.95 469.22,52.20 469.34,52.45 469.45,52.70 469.56,52.95 469.64,53.20 469.72,53.45 469.78,53.70 469.82,53.95 469.85,54.20 469.86,54.45 469.85,54.70 469.84,54.95 469.81,55.20 469.77,55.45 469.73,55.70 469.68,55.95 469.64,56.20 469.59,56.45 469.55,56.70 469.51,56.95 469.48,57.20 469.45,57.45 469.42,57.70 469.40,57.95 469.38,58.20 469.36,58.45 469.34,58.70 469.32,58.95 469.29,59.20 469.26,59.45 469.22,59.70 469.18,59.95 469.13,60.20 469.08,60.45 469.02,60.70 468.96,60.95 468.89,61.20 468.83,61.45 468.77,61.70 468.71,61.95 468.65,62.20 468.60,62.45 468.56,62.70 468.52,62.95 468.49,63.20 468.47,63.45 468.45,63.70 468.44,63.95 468.44,64.20 468.44,64.45 468.45,64.70 468.47,64.95 468.49,65.20 468.52,65.45 468.55,65.70 468.59,65.95 468.64,66.20 468.70,66.45 468.77,66.70 468.84,66.95 468.93,67.20 469.02,67.45 469.13,67.70 469.24,67.95 469.35,68.20 469.47,68.45 469.59,68.70 469.70,68.95 469.82,69.20 469.93,69.45 470.04,69.70 470.14,69.95 470.24,70.20 470.33,70.45 470.41,70.70 470.50,70.95 470.58,71.20 470.66,71.45 470.75,71.70 470.84,71.95 470.94,72.20 471.05,72.45 471.17,72.70 471.30,72.95 471.45,73.20 471.60,73.45 471.76,73.70 471.92,73.95 472.08,74.20 472.25,74.45 472.40,74.70 472.55,74.95 472.68,75.20 472.81,75.45 472.91,75.70 473.01,75.95 473.09,76.20 473.15,76.45 473.21,76.70 473.26,76.95 473.31,77.20 473.36,77.45 473.42,77.70 473.48,77.95 473.55,78.20 473.64,78.45 473.74,78.70 473.84,78.95 473.96,79.20 474.08,79.45 474.19,79.70 474.30,79.95 474.40,80.20 474.48,80.45 474.54,80.70 474.57,80.95 474.57,81.20 474.53,81.45 474.46,81.70 474.36,81.95 474.23,82.20 474.06,82.45 473.87,82.70 473.67,82.95 473.45,83.20 473.22,83.45 472.99,83.70 472.76,83.95 472.54,84.20 472.33,84.45 472.13,84.70 471.95,84.95 471.78,85.20 471.62,85.45 471.47,85.70 471.33,85.95 471.19,86.20 471.06,86.45 470.92,86.70 470.78,86.95 470.64,87.20 470.49,87.45 470.33,87.70 470.17,87.95 469.99,88.20 469.82,88.45 469.64,88.70 469.46,88.95 469.28,89.20 469.10,89.45 468.93,89.70 468.76,89.95 468.61,90.20 468.46,90.45 468.33,90.70 468.20,90.95 468.09,91.20 467.99,91.45 467.89,91.70 467.81,91.95 467.73,92.20 467.66,92.45 467.59,92.70 467.53,92.95 467.48,93.20 467.42,93.45 467.37,93.70 467.32,93.95 467.28,94.20 467.24,94.45 467.20,94.70 467.16,94.95 467.12,95.20 467.09,95.45 467.06,95.70 467.03,95.95 467.00,96.20 466.98,96.45 466.96,96.70 466.94,96.95 466.92,97.20 466.91,97.45 466.89,97.70 466.88,97.95 466.87,98.20 466.86,98.45 466.84,98.70 466.83,98.95 466.82,99.20 466.81,99.45 466.80,99.70 466.80,99.95 466.79,100.20 466.78,100.45 466.77,100.70 466.77,100.95 466.76,101.20 466.76,101.45 466.75,101.70 466.75,101.95 466.74,102.20 466.74,102.45 466.74,102.70 466.74,102.95 466.73,103.20 466.73,103.45 466.73,103.70 466.73,103.95 466.73,104.20 466.72,104.45 466.72,104.70 466.72,104.95 466.72,105.20 466.72,105.45 466.72,105.70 466.72,105.95 466.72,106.20 466.72,106.45 466.72,106.70 466.72,106.95 466.72,107.20 466.72,107.45 466.72,107.70 466.72,107.95 466.72,108.20 466.72,108.45 466.72,108.70 466.72,108.95 466.72,109.20 466.72,109.45 466.72,109.70 466.72,109.95 466.72,110.20 466.72,110.45 466.72,110.70 466.72,110.95 466.72,111.20 466.72,111.45 466.72,111.70 466.72,111.95 466.72,112.20 466.72,112.45 466.72,112.70 466.72,112.95 466.72,113.20 466.72,113.45 466.71,113.70 466.49,113.70 466.48,113.45 466.48,113.20 466.48,112.95 466.48,112.70 466.48,112.45 466.48,112.20 466.48,111.95 466.48,111.70 466.48,111.45 466.48,111.20 466.48,110.95 466.48,110.70 466.48,110.45 466.48,110.20 466.48,109.95 466.48,109.70 466.48,109.45 466.48,109.20 466.48,108.95 466.48,108.70 466.48,108.45 466.48,108.20 466.48,107.95 466.48,107.70 466.48,107.45 466.48,107.20 466.48,106.95 466.48,106.70 466.48,106.45 466.48,106.20 466.48,105.95 466.48,105.70 466.48,105.45 466.48,105.20 466.48,104.95 466.48,104.70 466.48,104.45 466.47,104.20 466.47,103.95 466.47,103.70 466.47,103.45 466.47,103.20 466.46,102.95 466.46,102.70 466.46,102.45 466.46,102.20 466.45,101.95 466.45,101.70 466.44,101.45 466.44,101.20 466.43,100.95 466.43,100.70 466.42,100.45 466.41,100.20 466.40,99.95 466.40,99.70 466.39,99.45 466.38,99.20 466.37,98.95 466.36,98.70 466.34,98.45 466.33,98.20 466.32,97.95 466.31,97.70 466.29,97.45 466.28,97.20 466.26,96.95 466.24,96.70 466.22,96.45 466.20,96.20 466.17,95.95 466.14,95.70 466.11,95.45 466.08,95.20 466.04,94.95 466.00,94.70 465.96,94.45 465.92,94.20 465.88,93.95 465.83,93.70 465.78,93.45 465.72,93.20 465.67,92.95 465.61,92.70 465.54,92.45 465.47,92.20 465.39,91.95 465.31,91.70 465.21,91.45 465.11,91.20 465.00,90.95 464.87,90.70 464.74,90.45 464.59,90.20 464.44,89.95 464.27,89.70 464.10,89.45 463.92,89.20 463.74,88.95 463.56,88.70 463.38,88.45 463.21,88.20 463.03,87.95 462.87,87.70 462.71,87.45 462.56,87.20 462.42,86.95 462.28,86.70 462.14,86.45 462.01,86.20 461.87,85.95 461.73,85.70 461.58,85.45 461.42,85.20 461.25,84.95 461.07,84.70 460.87,84.45 460.66,84.20 460.44,83.95 460.21,83.70 459.98,83.45 459.75,83.20 459.53,82.95 459.33,82.70 459.14,82.45 458.97,82.20 458.84,81.95 458.74,81.70 458.67,81.45 458.63,81.20 458.63,80.95 458.66,80.70 458.72,80.45 458.80,80.20 458.90,79.95 459.01,79.70 459.12,79.45 459.24,79.20 459.36,78.95 459.46,78.70 459.56,78.45 459.65,78.20 459.72,77.95 459.78,77.70 459.84,77.45 459.89,77.20 459.94,76.95 459.99,76.70 460.05,76.45 460.11,76.20 460.19,75.95 460.29,75.70 460.39,75.45 460.52,75.20 460.65,74.95 460.80,74.70 460.95,74.45 461.12,74.20 461.28,73.95 461.44,73.70 461.60,73.45 461.75,73.20 461.90,72.95 462.03,72.70 462.15,72.45 462.26,72.20 462.36,71.95 462.45,71.70 462.54,71.45 462.62,71.20 462.70,70.95 462.79,70.70 462.87,70.45 462.96,70.20 463.06,69.95 463.16,69.70 463.27,69.45 463.38,69.20 463.50,68.95 463.61,68.70 463.73,68.45 463.85,68.20 463.96,67.95 464.07,67.70 464.18,67.45 464.27,67.20 464.36,66.95 464.43,66.70 464.50,66.45 464.56,66.20 464.61,65.95 464.65,65.70 464.68,65.45 464.71,65.20 464.73,64.95 464.75,64.70 464.76,64.45 464.76,64.20 464.76,63.95 464.75,63.70 464.73,63.45 464.71,63.20 464.68,62.95 464.64,62.70 464.60,62.45 464.55,62.20 464.49,61.95 464.43,61.70 464.37,61.45 464.31,61.20 464.24,60.95 464.18,60.70 464.12,60.45 464.07,60.20 464.02,59.95 463.98,59.70 463.94,59.45 463.91,59.20 463.88,58.95 463.86,58.70 463.84,58.45 463.82,58.20 463.80,57.95 463.78,57.70 463.75,57.45 463.72,57.20 463.69,56.95 463.65,56.70 463.61,56.45 463.56,56.20 463.52,55.95 463.47,55.70 463.43,55.45 463.39,55.20 463.36,54.95 463.35,54.70 463.34,54.45 463.35,54.20 463.38,53.95 463.42,53.70 463.48,53.45 463.56,53.20 463.64,52.95 463.75,52.70 463.86,52.45 463.98,52.20 464.10,51.95 464.23,51.70 464.36,51.45 464.49,51.20 464.61,50.95 464.73,50.70 464.84,50.45 464.94,50.20 465.04,49.95 465.13,49.70 465.21,49.45 465.28,49.20 465.35,48.95 465.41,48.70 465.47,48.45 465.53,48.20 465.58,47.95 465.63,47.70 465.68,47.45 465.73,47.20 465.78,46.95 465.82,46.70 465.87,46.45 465.91,46.20 465.95,45.95 465.99,45.70 466.02,45.45 466.06,45.20 466.09,44.95 466.12,44.70 466.14,44.45 466.16,44.20 466.19,43.95 466.20,43.70 466.22,43.45 466.24,43.20 466.25,42.95 466.27,42.70 466.28,42.45 466.29,42.20 466.30,41.95 466.31,41.70 466.32,41.45 466.33,41.20 466.34,40.95 466.35,40.70 466.36,40.45 466.37,40.20 466.37,39.95 466.38,39.70 466.39,39.45 466.39,39.20 466.40,38.95 466.40,38.70 466.41,38.45 466.41,38.20 466.41,37.95 466.42,37.70 466.43,37.45 466.43,37.20 466.44,36.95 466.45,36.70 466.45,36.45 466.46,36.20 466.47,35.95 466.48,35.70 466.49,35.45 466.50,35.20 466.51,34.95 466.52,34.70 466.53,34.45 466.53,34.20 466.54,33.95 466.55,33.70 466.55,33.45 466.56,33.20 466.56,32.95 466.57,32.70 466.57,32.45 466.57,32.20 466.57,31.95 466.57,31.70 466.57,31.45 466.57,31.20 466.57,30.95 466.57,30.70 466.56,30.45 466.56,30.20 466.55,29.95 466.55,29.70 466.54,29.45 466.54,29.20 466.53,28.95 466.53,28.70 466.52,28.45 466.52,28.20 466.51,27.95 466.51,27.70 466.50,27.45 466.50,27.20 466.50,26.95 466.50,26.70 466.50,26.45 466.50,26.20 466.50,25.95 466.51,25.70 466.51,25.45 466.51,25.20 466.52,24.95 466.52,24.70 466.53,24.45 466.53,24.20 466.54,23.95 466.55,23.70 466.55,23.45 466.56,23.20 466.56,22.95 466.57,22.70 466.57,22.45 466.57,22.20 466.57,21.95 466.58,21.70 466.58,21.45 466.58,21.20 466.58,20.95 466.58,20.70 466.58,20.45 466.57,20.20 466.57,19.95 466.57,19.70 466.56,19.45 466.56,19.20 466.55,18.95 466.55,18.70 466.54,18.45 466.54,18.20 466.53,17.95 466.53,17.70 466.52,17.45 466.52,17.20 466.51,16.95 466.51,16.70" fill="#dc4b6c" stroke="#2a2a2a" stroke-width="0.7" stroke-linejoin="round"/>
<line x1="466.6" y1="26.62" x2="466.6" y2="111.49" stroke="#333" stroke-width="0.55"/>
<rect x="464.50" y="59.47" width="4.2" height="21.90" fill="#fff" stroke="#333" stroke-width="0.5"/>
<line x1="464.5" y1="81.38" x2="468.70000000000005" y2="81.38" stroke="#222" stroke-width="1"/>
<line x1="533.5" y1="154.3" x2="683.6" y2="22.3" stroke="#c4c4c4" stroke-width="0.6" stroke-dasharray="1.3,0.9"/>
<rect x="533.5" y="22.3" width="150.1" height="132" fill="none" stroke="#6a6a6a" stroke-width="0.85"/>
<line x1="530.2" y1="149.4" x2="533.5" y2="149.4" stroke="#6a6a6a" stroke-width="0.6"/>
<text transform="translate(527.1,149.4) rotate(-90)" font-size="5.2" fill="#333" text-anchor="middle">0.0</text>
<line x1="539.1" y1="154.3" x2="539.1" y2="157.5" stroke="#6a6a6a" stroke-width="0.6"/>
<text x="539.1" y="165.4" font-size="5.2" fill="#333" text-anchor="middle">0.0</text>
<line x1="530.2" y1="125.0" x2="533.5" y2="125.0" stroke="#6a6a6a" stroke-width="0.6"/>
<text transform="translate(527.1,125.0) rotate(-90)" font-size="5.2" fill="#333" text-anchor="middle">0.2</text>
<line x1="566.8" y1="154.3" x2="566.8" y2="157.5" stroke="#6a6a6a" stroke-width="0.6"/>
<text x="566.8" y="165.4" font-size="5.2" fill="#333" text-anchor="middle">0.2</text>
<line x1="530.2" y1="100.5" x2="533.5" y2="100.5" stroke="#6a6a6a" stroke-width="0.6"/>
<text transform="translate(527.1,100.5) rotate(-90)" font-size="5.2" fill="#333" text-anchor="middle">0.4</text>
<line x1="594.6" y1="154.3" x2="594.6" y2="157.5" stroke="#6a6a6a" stroke-width="0.6"/>
<text x="594.6" y="165.4" font-size="5.2" fill="#333" text-anchor="middle">0.4</text>
<line x1="530.2" y1="76.1" x2="533.5" y2="76.1" stroke="#6a6a6a" stroke-width="0.6"/>
<text transform="translate(527.1,76.1) rotate(-90)" font-size="5.2" fill="#333" text-anchor="middle">0.6</text>
<line x1="622.4" y1="154.3" x2="622.4" y2="157.5" stroke="#6a6a6a" stroke-width="0.6"/>
<text x="622.4" y="165.4" font-size="5.2" fill="#333" text-anchor="middle">0.6</text>
<line x1="530.2" y1="51.6" x2="533.5" y2="51.6" stroke="#6a6a6a" stroke-width="0.6"/>
<text transform="translate(527.1,51.6) rotate(-90)" font-size="5.2" fill="#333" text-anchor="middle">0.8</text>
<line x1="650.2" y1="154.3" x2="650.2" y2="157.5" stroke="#6a6a6a" stroke-width="0.6"/>
<text x="650.2" y="165.4" font-size="5.2" fill="#333" text-anchor="middle">0.8</text>
<line x1="530.2" y1="27.2" x2="533.5" y2="27.2" stroke="#6a6a6a" stroke-width="0.6"/>
<text transform="translate(527.1,27.2) rotate(-90)" font-size="5.2" fill="#333" text-anchor="middle">1.0</text>
<line x1="678.0" y1="154.3" x2="678.0" y2="157.5" stroke="#6a6a6a" stroke-width="0.6"/>
<text x="678.0" y="165.4" font-size="5.2" fill="#333" text-anchor="middle">1.0</text>
<text x="608.5" y="177.5" font-size="5.05" fill="#333" text-anchor="middle">Specificity</text>
<text transform="translate(515.1,88.7) rotate(-90)" font-size="5.1" fill="#333" text-anchor="middle">Sensitivity</text>
<text x="608.5" y="12.6" font-size="5.95" font-weight="bold" fill="#222" text-anchor="middle">ROC (Threshold = 0.35)</text>
<path d="M539.00 28.80 C549.17 28.82 584.83 28.87 600.00 28.95 C615.17 29.03 621.67 29.11 630.00 29.30 C638.33 29.49 645.00 29.82 650.00 30.10 C655.00 30.38 657.62 30.73 660.00 31.00 C662.38 31.27 662.97 31.33 664.30 31.70 C665.63 32.07 666.77 32.55 668.00 33.20 C669.23 33.85 670.67 34.67 671.70 35.60 C672.73 36.53 673.48 37.53 674.20 38.80 C674.92 40.07 675.53 41.33 676.00 43.20 C676.47 45.07 676.75 46.87 677.00 50.00 C677.25 53.13 677.37 53.67 677.50 62.00 C677.63 70.33 677.72 85.43 677.80 100.00 C677.88 114.57 677.97 141.17 678.00 149.40" fill="none" stroke="#5ec3a6" stroke-width="0.95"/>
<path d="M539.00 28.40 C555.83 28.42 619.83 28.42 640.00 28.50 C660.17 28.58 655.58 28.65 660.00 28.90 C664.42 29.15 664.92 29.52 666.50 30.00 C668.08 30.48 668.65 30.88 669.50 31.80 C670.35 32.72 671.00 33.42 671.60 35.50 C672.20 37.58 672.63 40.88 673.10 44.30 C673.57 47.72 673.98 50.88 674.40 56.00 C674.82 61.12 675.23 67.67 675.60 75.00 C675.97 82.33 676.28 90.83 676.60 100.00 C676.92 109.17 677.27 121.77 677.50 130.00 C677.73 138.23 677.92 146.17 678.00 149.40" fill="none" stroke="#d6ab52" stroke-width="0.95"/>
<path d="M539.00 27.70 C549.17 27.70 578.50 27.70 600.00 27.70 C621.50 27.70 655.83 27.65 668.00 27.70 C680.17 27.75 671.67 27.73 673.00 28.00 C674.33 28.27 675.22 28.72 676.00 29.30 C676.78 29.88 677.32 30.55 677.70 31.50 C678.08 32.45 678.18 32.75 678.30 35.00 C678.42 37.25 678.38 25.93 678.40 45.00 C678.42 64.07 678.40 132.00 678.40 149.40" fill="none" stroke="#e0557a" stroke-width="0.95"/>
<circle cx="122.2" cy="292.5" r="99.8" fill="#f5f4f0"/>
<circle cx="122.2" cy="292.5" r="57.3" fill="#e0e0d0"/>
<line x1="123.73" y1="260.41" x2="94.88" y2="312.40" stroke="#262626" stroke-width="1.05"/>
<line x1="96.50" y1="313.40" x2="150.10" y2="313.40" stroke="#262626" stroke-width="1.05"/>
<circle cx="122.5" cy="214.5" r="12.65" fill="#91d3c2"/>
<text transform="translate(122.5,216.95) scale(0.93,1)" font-size="6.9" font-weight="bold" fill="#1a1a1a" stroke="#1a1a1a" stroke-width="0.18" text-anchor="middle">WMS</text>
<circle cx="48.5" cy="267.35" r="12.65" fill="#91d3c2"/>
<text transform="translate(48.5,269.80) scale(0.93,1)" font-size="6.9" font-weight="bold" fill="#1a1a1a" stroke="#1a1a1a" stroke-width="0.18" text-anchor="middle">Maze</text>
<circle cx="199.1" cy="275.4" r="12.65" fill="#91d3c2"/>
<text transform="translate(199.1,277.85) scale(0.93,1)" font-size="6.9" font-weight="bold" fill="#1a1a1a" stroke="#1a1a1a" stroke-width="0.18" text-anchor="middle">TMT</text>
<circle cx="122.55" cy="259.75" r="12.65" fill="#6cc4ae"/>
<text transform="translate(122.55,262.20) scale(0.93,1)" font-size="6.9" font-weight="bold" fill="#1a1a1a" stroke="#1a1a1a" stroke-width="0.18" text-anchor="middle">HVLT</text>
<circle cx="96.5" cy="313.3" r="12.65" fill="#6cc4ae"/>
<text transform="translate(96.5,315.75) scale(0.93,1)" font-size="6.9" font-weight="bold" fill="#1a1a1a" stroke="#1a1a1a" stroke-width="0.18" text-anchor="middle">BVMT</text>
<circle cx="150.1" cy="313.3" r="12.65" fill="#6cc4ae"/>
<text transform="translate(150.1,315.75) scale(0.93,1)" font-size="6.9" font-weight="bold" fill="#1a1a1a" stroke="#1a1a1a" stroke-width="0.18" text-anchor="middle">BACS</text>
<circle cx="83.5" cy="359.5" r="12.65" fill="#91d3c2"/>
<text transform="translate(83.5,361.95) scale(0.93,1)" font-size="6.9" font-weight="bold" fill="#1a1a1a" stroke="#1a1a1a" stroke-width="0.18" text-anchor="middle">VFT</text>
<circle cx="163.5" cy="359.5" r="12.65" fill="#91d3c2"/>
<text transform="translate(163.5,361.95) scale(0.93,1)" font-size="6.9" font-weight="bold" fill="#1a1a1a" stroke="#1a1a1a" stroke-width="0.18" text-anchor="middle">CPT</text>
<text x="117.6" y="407.8" font-size="12.2" fill="#222" text-anchor="middle">HC</text>
<circle cx="344.9" cy="292.5" r="99.8" fill="#e2e1cf"/>
<circle cx="344.9" cy="292.5" r="57.0" fill="#c4c3a3"/>
<line x1="345.20" y1="215.10" x2="345.20" y2="260.10" stroke="#262626" stroke-width="1.05"/>
<line x1="347.52" y1="212.59" x2="424.59" y2="271.67" stroke="#262626" stroke-width="1.05"/>
<line x1="426.09" y1="277.49" x2="388.91" y2="360.54" stroke="#262626" stroke-width="1.05"/>
<line x1="271.31" y1="269.19" x2="345.19" y2="257.50" stroke="#262626" stroke-width="1.05"/>
<line x1="343.87" y1="259.08" x2="313.93" y2="310.11" stroke="#262626" stroke-width="1.5"/>
<line x1="347.83" y1="258.78" x2="378.16" y2="310.02" stroke="#262626" stroke-width="1.5"/>
<line x1="319.20" y1="313.00" x2="372.80" y2="313.00" stroke="#262626" stroke-width="1.5"/>
<line x1="317.44" y1="312.62" x2="302.42" y2="358.29" stroke="#262626" stroke-width="1.05"/>
<circle cx="345.6" cy="215.1" r="12.65" fill="#d7bc7c"/>
<text transform="translate(345.6,217.55) scale(0.93,1)" font-size="6.9" font-weight="bold" fill="#1a1a1a" stroke="#1a1a1a" stroke-width="0.18" text-anchor="middle">BVMT</text>
<circle cx="345.6" cy="260.1" r="12.65" fill="#cfae5c"/>
<text transform="translate(345.6,262.55) scale(0.93,1)" font-size="6.9" font-weight="bold" fill="#1a1a1a" stroke="#1a1a1a" stroke-width="0.18" text-anchor="middle">BACS</text>
<circle cx="271.05" cy="267.55" r="12.65" fill="#d7bc7c"/>
<text transform="translate(271.05,270.00) scale(0.93,1)" font-size="6.9" font-weight="bold" fill="#1a1a1a" stroke="#1a1a1a" stroke-width="0.18" text-anchor="middle">CPT</text>
<circle cx="421.65" cy="275.5" r="12.65" fill="#d7bc7c"/>
<text transform="translate(421.65,277.95) scale(0.93,1)" font-size="6.9" font-weight="bold" fill="#1a1a1a" stroke="#1a1a1a" stroke-width="0.18" text-anchor="middle">HVLT</text>
<circle cx="319.2" cy="313.2" r="12.65" fill="#cfae5c"/>
<text transform="translate(319.2,315.65) scale(0.93,1)" font-size="6.9" font-weight="bold" fill="#1a1a1a" stroke="#1a1a1a" stroke-width="0.18" text-anchor="middle">Maze</text>
<circle cx="372.8" cy="313.2" r="12.65" fill="#cfae5c"/>
<text transform="translate(372.8,315.65) scale(0.93,1)" font-size="6.9" font-weight="bold" fill="#1a1a1a" stroke="#1a1a1a" stroke-width="0.18" text-anchor="middle">TMT</text>
<circle cx="306.1" cy="359.5" r="12.65" fill="#d7bc7c"/>
<text transform="translate(306.1,361.95) scale(0.93,1)" font-size="6.9" font-weight="bold" fill="#1a1a1a" stroke="#1a1a1a" stroke-width="0.18" text-anchor="middle">WMS</text>
<circle cx="386.6" cy="359.5" r="12.65" fill="#d7bc7c"/>
<text transform="translate(386.6,361.95) scale(0.93,1)" font-size="6.9" font-weight="bold" fill="#1a1a1a" stroke="#1a1a1a" stroke-width="0.18" text-anchor="middle">VFT</text>
<text x="344.3" y="407.8" font-size="11.8" fill="#222" text-anchor="middle">CHR</text>
<circle cx="567.65" cy="292.5" r="99.8" fill="#a8a586"/>
<circle cx="567.65" cy="292.5" r="57.3" fill="#858468"/>
<line x1="567.50" y1="212.10" x2="567.50" y2="251.20" stroke="#262626" stroke-width="1.6"/>
<line x1="562.04" y1="208.83" x2="521.35" y2="279.27" stroke="#262626" stroke-width="1.3"/>
<line x1="574.20" y1="208.44" x2="614.08" y2="279.29" stroke="#262626" stroke-width="1.3"/>
<line x1="572.92" y1="205.50" x2="645.04" y2="262.58" stroke="#262626" stroke-width="1.3"/>
<line x1="567.15" y1="250.02" x2="525.19" y2="280.35" stroke="#262626" stroke-width="2.6"/>
<line x1="567.14" y1="252.77" x2="611.70" y2="277.07" stroke="#262626" stroke-width="2.6"/>
<line x1="567.30" y1="251.02" x2="547.14" y2="329.02" stroke="#262626" stroke-width="2.6"/>
<line x1="567.86" y1="251.24" x2="590.91" y2="328.82" stroke="#262626" stroke-width="2.6"/>
<line x1="570.22" y1="250.09" x2="621.49" y2="352.23" stroke="#262626" stroke-width="1.3"/>
<line x1="526.60" y1="281.80" x2="608.90" y2="281.80" stroke="#262626" stroke-width="2.6"/>
<line x1="523.06" y1="284.03" x2="545.01" y2="329.13" stroke="#262626" stroke-width="2.6"/>
<line x1="527.13" y1="281.54" x2="593.37" y2="327.26" stroke="#262626" stroke-width="2.6"/>
<line x1="611.30" y1="285.93" x2="545.59" y2="328.22" stroke="#262626" stroke-width="2.6"/>
<line x1="613.75" y1="284.64" x2="591.99" y2="327.97" stroke="#262626" stroke-width="2.6"/>
<line x1="545.90" y1="328.50" x2="592.65" y2="328.50" stroke="#262626" stroke-width="2.6"/>
<line x1="545.92" y1="328.66" x2="620.74" y2="356.00" stroke="#262626" stroke-width="1.3"/>
<line x1="614.86" y1="281.52" x2="622.93" y2="351.77" stroke="#262626" stroke-width="1.3"/>
<line x1="644.37" y1="266.77" x2="626.57" y2="352.74" stroke="#262626" stroke-width="1.3"/>
<line x1="642.48" y1="267.30" x2="608.19" y2="280.32" stroke="#262626" stroke-width="1.3"/>
<path d="M556.64 281.80 A2.7 2.7 0 0 1 562.04 281.80" fill="none" stroke="#262626" stroke-width="1.5"/>
<path d="M552.30 298.92 A2.7 2.7 0 0 1 556.75 301.99" fill="none" stroke="#262626" stroke-width="1.5"/>
<path d="M574.24 281.80 A2.7 2.7 0 0 1 579.64 281.80" fill="none" stroke="#262626" stroke-width="1.5"/>
<path d="M581.21 305.30 A2.7 2.7 0 0 1 585.76 302.37" fill="none" stroke="#262626" stroke-width="1.5"/>
<path d="M583.44 281.80 A2.7 2.7 0 0 1 588.84 281.80" fill="none" stroke="#262626" stroke-width="1.5"/>
<path d="M591.58 298.63 A2.7 2.7 0 0 1 596.12 295.70" fill="none" stroke="#262626" stroke-width="1.5"/>
<path d="M599.44 313.13 A2.7 2.7 0 0 1 601.86 308.31" fill="none" stroke="#262626" stroke-width="1.5"/>
<path d="M568.76 313.31 A2.7 2.7 0 0 1 573.30 310.39" fill="none" stroke="#262626" stroke-width="1.5"/>
<circle cx="567.7" cy="212.1" r="12.65" fill="#cc6279"/>
<text transform="translate(567.7,214.55) scale(0.93,1)" font-size="7.05" font-weight="bold" fill="#1a1a1a" stroke="#1a1a1a" stroke-width="0.18" text-anchor="middle">TMT</text>
<circle cx="568" cy="251.2" r="12.65" fill="#d84a6c"/>
<text transform="translate(568,253.65) scale(0.93,1)" font-size="7.05" font-weight="bold" fill="#1a1a1a" stroke="#1a1a1a" stroke-width="0.18" text-anchor="middle">BACS</text>
<circle cx="642.1" cy="266.3" r="12.65" fill="#cc6279"/>
<text transform="translate(642.1,268.75) scale(0.93,1)" font-size="7.05" font-weight="bold" fill="#1a1a1a" stroke="#1a1a1a" stroke-width="0.18" text-anchor="middle">VFT</text>
<circle cx="526.6" cy="282.3" r="12.65" fill="#d84a6c"/>
<text transform="translate(526.6,284.75) scale(0.93,1)" font-size="7.05" font-weight="bold" fill="#1a1a1a" stroke="#1a1a1a" stroke-width="0.18" text-anchor="middle">Maze</text>
<circle cx="608.9" cy="282.2" r="12.65" fill="#d84a6c"/>
<text transform="translate(608.9,284.65) scale(0.93,1)" font-size="7.05" font-weight="bold" fill="#1a1a1a" stroke="#1a1a1a" stroke-width="0.18" text-anchor="middle">CPT</text>
<circle cx="545.9" cy="328.7" r="12.65" fill="#d84a6c"/>
<text transform="translate(545.9,331.15) scale(0.93,1)" font-size="7.05" font-weight="bold" fill="#1a1a1a" stroke="#1a1a1a" stroke-width="0.18" text-anchor="middle">BVMT</text>
<circle cx="592.65" cy="328.3" r="12.65" fill="#d84a6c"/>
<text transform="translate(592.65,330.75) scale(0.93,1)" font-size="7.05" font-weight="bold" fill="#1a1a1a" stroke="#1a1a1a" stroke-width="0.18" text-anchor="middle">WMS</text>
<circle cx="622.25" cy="351.85" r="12.65" fill="#d84a6c"/>
<text transform="translate(622.25,354.30) scale(0.93,1)" font-size="7.05" font-weight="bold" fill="#1a1a1a" stroke="#1a1a1a" stroke-width="0.18" text-anchor="middle">HVLT</text>
<text x="572" y="407.8" font-size="11.8" fill="#222" text-anchor="middle">FES</text>
</svg>
</body></html>
